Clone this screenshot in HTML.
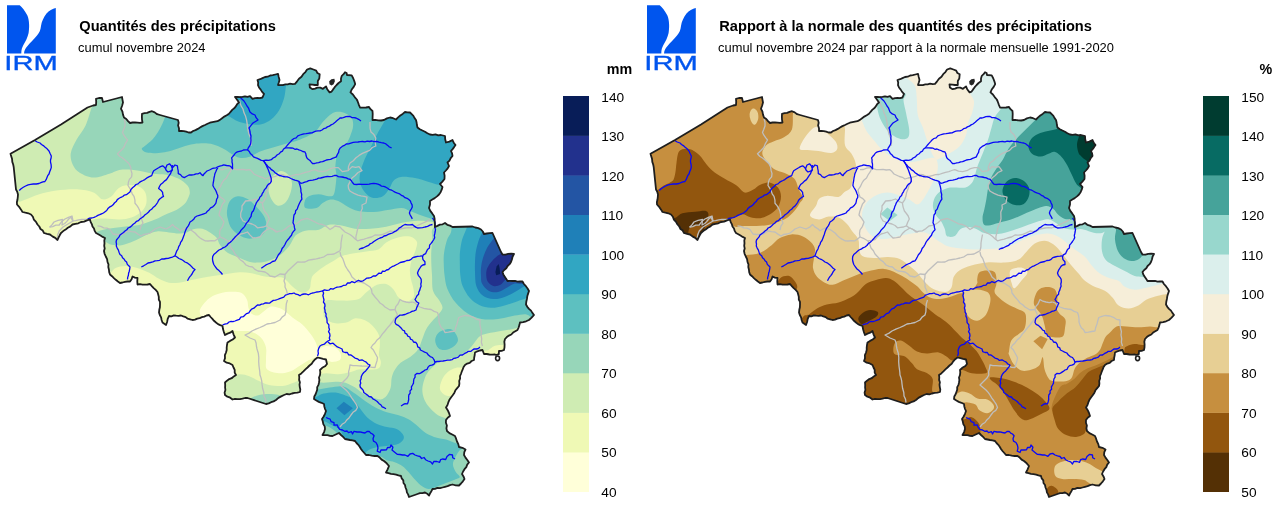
<!DOCTYPE html>
<html><head><meta charset="utf-8"><title>IRM</title>
<style>
html,body{margin:0;padding:0;background:#fff;}
body{width:1280px;height:507px;overflow:hidden;font-family:"Liberation Sans",sans-serif;}
svg{display:block;will-change:transform}
text{font-family:"Liberation Sans",sans-serif}
.lb{font-size:13.7px}
.un{font-size:14.3px;font-weight:bold}
.ti{font-size:14.62px;font-weight:bold}
.st{font-size:12.88px}
</style></head><body>
<svg width="1280" height="507" viewBox="0 0 1280 507">
<defs>
<clipPath id="be"><path d="M10.5,153.8 35,140 61,124.5 87.5,107.5 96,105 96,98.8 102,98 103,102 122,97 123,102.5 121,108.8 124,117.5 130,123 142.5,122.5 142,113.8 152,111.2 160,115 178,120 179,131 191,132.5 200,127.5 207.5,123.8 217.5,121.2 229,113.8 239,102.5 235,97 250,96.2 252.5,98.8 262.5,97.5 264,93.8 259,87.5 257.5,80 265,77 278,73.8 279.5,80 278,85 295,83.8 299,78.8 303.2,74.2 307.1,69.5 310.3,68.3 313.4,69.5 316.2,70.7 317.4,73 319.7,74.2 319.3,78.5 317.8,80.9 317.8,85 309.5,84.3 309.9,87.6 312.6,89.2 317.4,87.6 322.9,88.8 326,86.4 327.2,89.2 329.6,92.4 331.6,91.6 334.7,87.2 341,81.3 341.8,75.8 345,72.2 346.6,73 347,75 351.7,75.4 355.2,84.1 350.5,92.4 356.8,99.5 357.5,101 360,107.5 369,107 372.5,111 372.5,120 384,120 390,117.5 396,119.5 405,112 410,112.5 416,120 417.5,127.5 430,134.5 441,135 445,136 446,142.5 452.5,140 455.5,145 451,151 452.5,156 447.5,162.5 449,166 444,172.5 444.5,179 440,184 442.5,187 439,194.5 430,201 429,208 434,216 435,227 445,223 452.5,227 472.5,226.5 481,229.5 484,234 492.5,233 501,252 502.5,254.5 514,254 511,262 502.5,272 507.5,281 522.5,281.5 529,291 526,304.5 534,315 529,320 520,322.5 517.5,330 505,339 504,350 499,351 498.8,354.2 496,355 495,354.5 484,354 482.5,350 475,352.5 474,360 465,365 460,376 459,386 451,397.5 446,407.5 450,416 446,420 447,431 455,436 459,447 465.5,449.5 464,455 469,462.5 462,474 464.5,479 459,485.5 452.5,484.5 442.5,487.5 432.5,489 429,495.5 425,492.5 417.5,494 409,497 405,485 401,476 386,472.5 389,466 384,461 377.5,456 366,455 362.5,451 355,441 345,439 339,433 332.5,436 322.5,435 325,429 322,419 326,411 324,404 314,399 319,382.5 320,370 327,364 326,359.5 317.5,357.5 307.5,367.5 299,375 300,392 284,395 276,400 266,404 247.5,398 232.5,399.5 225,395 225,382.5 236,375 232.5,365 224,361 226,352.5 227.5,342.5 235,337.5 232.5,331 225,335 222.5,326 216,322.5 209,315 192.5,320 181,315.5 169,316 166,325 162.5,322.5 159,312.5 160,304.5 157.5,292 150,284 137.5,284.5 137.5,278 132.5,276.5 130,281.5 120,283 110,274.5 107.5,262 104,251 105,238 96,233 90,219.5 81,222 72.5,224.5 61,233 57.5,240 50,234.5 44,233 37.5,224.5 31,214.5 22.5,212 17,204.5 18,194.5 16,189.5 14,170Z"/></clipPath>
<g id="ov">
<g fill="none" stroke="#bebebe" stroke-width="1.3" stroke-linejoin="round">
<path d="M124,118.8 125,122.3 125,126 123.8,129.3 122.5,132.5 123.9,135.2 125.6,137.7 127.5,140 125.4,143.6 123.8,147.5 120.7,150.7 117.5,153.8 119.7,156.2 122.5,158 125,160 129,163.8 130.6,166.9 131.1,170.4 132,173.7 131.6,176.9 129.4,179.4 128.4,182.3 128,185.5 129.7,188.1 131.2,190.8 132.2,193.9 134,196.4 134.9,199.8 135,203.3 137,205.6 138.6,208.2 139.9,211 140.6,214 140.9,217 141.8,220.1 143,223 140.9,226.2 140,230"/>
<path d="M50,227 52.1,224.6 54,222 58.1,220.3 62.5,219.5 62,225 64.7,223.5 66.9,221.4 68.7,219 71,217 72.5,220.8 75.6,220.7 78.7,219.8 81.8,219.4 85,219.5 90,219.5"/>
<path d="M97.5,225.8 100.8,226.3 103.7,227.8 107,228.1 110,229.5 113,234 116.2,234.5 119.3,234.5 122.5,234.5 125.2,232.6 128,231 131.5,231.7 135,232 137.9,234.1 141,236 143.8,234.4 147,234 150,233 152.6,231.1 155,229 160,227 163,228 166,229 169.6,227.2 172.5,224.5 174.8,226.9 177.6,228.6 180,230.8 185,228 190,229.5 192.7,231.3 195.3,233.3 197.5,235.8 199.8,237.8 202.4,239.4 205,240.8 208.3,241 211.7,240.7 215,240.8 217.5,238.9 220,237 224.2,238.7 228,241 231.5,240.3 235,239.5 237.7,236.4 241,234 244.3,233.2 247.5,232 250.1,235.1 253,238 256.5,237.7 260,237 262.2,233.8 265,231 270,228 273.3,229.5 276,232 279.2,231.2 282.5,230.8 285.9,228.6 289,226 292,225.3 295,224.5 298.2,222.5 301,220 304.2,219.2 307.5,218.5 311.3,220.1 315,222 318.6,223.8 322.5,224.5 325.3,225.8 327.7,227.5 330,229.5 332.6,227.9 335,226 340,227 342.4,229.6 345,232 350,234.5 352.6,236.5 354.9,238.8 357.5,240.8 360.8,239.8 364.2,239.2 367.5,238 371.5,237 375,235 378.8,235.2 382.5,234.5 386.3,232.9 390,231 395,232 400,229 405,228 408.3,227.6 411.7,228 415,227 419,224.9 423,223 426.6,221.4 430,219.5"/>
<path d="M240.7,213 242,209.6 242,206 243.8,203.5 245.6,201 251,200.5 255.5,199 258.8,201.3 262.4,203 263.1,207.1 264.4,211 266.4,213.5 268.2,216 269.3,219 267.7,222.3 266.4,225.8 263.5,227 260.5,227.3 257.5,227.8 255.1,225.5 252,224 247.6,222.8 243,221 240.7,217 240.7,213"/>
<path d="M239.7,100.5 240.2,103.6 241.4,106.4 243,109 244,112.8 245.6,116.3 246.6,120.1 247.2,124.1 247.6,128 248.3,131.4 249.2,134.8 250.6,138 251.5,142 251,146"/>
<path d="M220,169.6 223.4,169.5 226.6,168.1 229.9,167.6 233.1,168.7 236.3,169.6 239.7,169.6 243,169.3 246.3,170 249.6,169.6 252,171.6 254,174 259.4,176.5 262.4,177.3 265,179 268.1,178 271.3,177.5 275.4,176.3 279.2,174.5 282.6,174.7 285.7,176.1 289,176.5 292.3,175.6 295.5,174.7 298.9,174.5 302.2,173.4 305.5,172.4 308.8,171.6 311.7,170.5 314.7,169.6 318.5,171.1 322.6,171.6 326.8,170.7 330.5,168.6 334.4,167.7 338.3,167.6 342.3,171.6 348.2,170.6 352.1,166.6 355.6,167.3 359,166.6 362,170.6 358,172.5"/>
<path d="M370,122 370,125.4 370.1,128.7 371,132 373.9,134.6 375.8,138 375.2,142 375.8,146 372.3,147.5 369.6,150.4 366,151.8 362.4,153.4 359.1,155.4 356,157.7 353.3,160.7 350,163 348.5,166.6 348.2,170.6"/>
<path d="M358,172.5 355.2,175.5 352,178 350,181.6 348.2,185.4 348.6,188.6 350.2,191.3 354,193.4 358,195.2 361,195.8 364.1,196.3 367,197.2 366,203 362,205 362.3,208.5 360.8,211.9 360.9,215.4 361,218.9 359.8,223 358,226.8 357.4,230.1 356.7,233.4 355.9,236.6 356,240"/>
<path d="M240,259.5 243.3,261.9 246,265 249.1,266.4 252.5,267 254.9,269.4 258,271 261.5,271.3 265,272 267.7,273.8 270,276 275,277 280,274 285,274.5 284.9,277.8 284,281 285.1,283.9 285,287 286.6,290.6 287.5,294.5"/>
<path d="M285,274.5 287.8,271 291,268 294.2,265 297.5,262 301.2,262.1 305,262 308.6,260.2 312.5,259.5 316.3,258.8 320,258 324,256.8 327.5,254.5 330.8,254.3 334,254 337,252.4 340,250.8 340.9,247 341,243 341.7,238.7 342.5,234.5"/>
<path d="M340,252 340.8,255.6 342.8,258.6 344,262 345.3,265.9 347.5,269.5 350.1,273.1 352,277 354.8,279.5 357.5,282 360.8,282.2 364,283 367,285 370,287 371.6,289.8 372,293 375,297 377.6,299.9 380,303 382.7,304.8 385,307 390,310 395,309.5 395.9,306.4 398,304 400,299.5 402.8,301.2 406,302 409.2,302.6 412.5,302"/>
<path d="M287.5,300 286.3,303.9 286,308 285.9,311.6 285,315 282.1,317.1 280,320 275,322.5 271,323.3 267,324 263.6,325.9 260,327.5 255.9,329.1 252,331 248.7,333.4 245,335 250,338 255,340 256.1,342.9 256.4,346 257,349 258.3,353.2 258.8,357.5 258.7,361.8 259,366 259.4,369 259.8,372 260,375 261,377.9 261.7,380.9 262,384 262.6,388.3 263.8,392.5 264,396 265.5,399.1 266,402.5"/>
<path d="M395,309.5 396.3,312.2 397.5,315 395.1,317.9 393,321 390,325 387.4,327.9 385,331 382.3,334.1 380,337.5 377.1,339.9 375,343 372.7,345 371,347.5 373.4,350 375,353 377.5,357.5 377,360.9 375.9,364.2 375,367.5 371.7,367.3 368.6,366.1 365.3,366.1 362,366 359,365.8 356,365.7 353,365.6 350,365 349.5,368.3 348.6,371.6 348.8,375 346.8,378.3 344,381 340,385 343,387.4 346,390 348.2,392.4 350,395 351.9,398.1 354,401 356.1,404.1 357.5,407.5 355.8,410.4 353,412.3 351,415 349.2,417.7 346.8,419.9 345,422.5 342.1,424.3 340,427"/>
<path d="M412.5,302 415.4,303.1 417.2,305.8 420,307 423.7,308.3 427.5,309 431.1,309.5 434.1,311.4 437.5,312.5 438.6,315.7 439,319 439,322.1 440,325 441.3,327.8 443.6,329.8 445,332.5 448.4,332.1 451.7,331.5 455,331 455.7,327.4 457,324 457.8,320.7 458.8,317.5 461.9,316.4 465,315.5 470,316 473.4,317.3 476.4,319.3 480,320 479.9,324 480.5,328 481.4,331.5 481,335 481.7,338.6 481.4,342.4 482.5,346"/>
<path d="M232,168 230.3,171.7 228,175 226.5,178 223.8,180.2 222,183 220.3,186.7 218,190 218.8,193.5 220,197 222.8,198.6 225,201 222.4,204.2 221,208 219.8,211.4 219,215 221.7,218.3 224,222 222.5,226.3 220,230 219.5,233.5 220,237"/>
<path d="M262.4,203 264.7,199.8 266,196 266.6,192.4 268,189 269,185.3 271,182 271.3,177.5"/>
<path d="M266.4,225.8 269,227.8 272,229 274.9,230.6 278,232"/>
<path d="M228,241 229.8,244.4 231,248 233.4,250.7 235,254 237.6,256.7 240,259.5"/>
<path d="M49.3,227 52.7,226.6 55.8,225.2 59.2,225 61.7,221.6 65,219 68.4,217.3 72,216 73,221 68,224 63,227 59.2,231 57.8,234.4 57.2,238"/>
</g>
<g fill="none" stroke="#0808f8" stroke-width="1.3" stroke-linejoin="round">
<path d="M34.6,140.5 37.2,142 40,143 41.5,144.5 43.3,145.6 44.9,147 47.1,148.8 49,151 50.1,153.5 51.3,156 51.1,158 50.5,160 50.5,162 51.1,164.7 51.3,167.4 50.6,169.6 49.7,171.8 49,174 47.7,175.7 46.9,177.7 46.1,179.7 44.9,181.5 42.9,181.9 40.9,182.7 39,183.5 36.2,184 33.3,184 30.6,184.3 28.1,184.9 25.6,186 23.3,187.3 21.1,188.7 19.2,190.5"/>
<path d="M87.6,219 89.6,218.1 91.9,218 94,217.4 96,216.5 97.8,215.4 99.7,214.7 101.5,213.8 103.4,213 105.1,211.7 106.7,210.5 107.9,208.6 109.4,207.2 111.3,206.2 113.1,204.8 114.4,203 116.2,201.6 117.3,199.6 119.2,198.3 120.9,197.3 122.8,196.5 124.4,195.1 126.4,194.7 128,193.4 129.9,191.9 130.9,189.6 132.5,187.8 134.4,186.3 136,184.5 138,183.9 139.5,182.4 141.2,181.3 143,180.5 144.8,179.6 146.9,177.9 149.3,176.7 151.7,175.6 152.6,173.1 153.7,170.7 156.1,169.2 158.6,167.8 160.5,166.6 162.6,165.8 164.2,167.1 165.5,168.7 167,165 169.5,163.8 171.2,165.7 172.4,167.8 175,165 177.4,165.8 177.7,168.4 178.2,171 178.3,173.7 180.5,174.6 182.1,176.6 184.3,177.6 186.7,176.3 189,175 191.6,175 194.1,174.7 196,173.8 198.2,173.8 200,172.7 201.3,174.4 203,175.6 204.1,173.8 205.6,172.4 207,171 209.5,170 211.9,168.7 213.9,168.2 216,167.8 217.8,166.8 219.7,166.1 221.8,165.7 223.7,164.8 226.6,165.5 229.6,165.8 231.2,167.1 232.6,168.7 232.5,166.5 232.5,164.2 232,162 232.1,159.9 231.6,157.9 232.9,156.3 234.3,154.7 235.5,153 237.3,151.9 239.4,151.3 241.5,151 243.4,150 245.5,149.9 247.6,149.9 248.3,147.8 249.6,146 250.6,144 250.9,142 251,140 250.8,138 251,136 250.4,134 250,132 249.7,129.9 249,128 250.3,126.3 251.6,124.6 253,123 255.5,121.5 258,120 256.1,117.7 255,115 252.3,113.9 250,112 249.2,109.9 248.4,107.8 247,106 245.6,103.5 244,101 241.9,99.1 240,97"/>
<path d="M165.5,168.7 166.4,170.6 168,172 170.4,171.2 172.4,169.7 172,167.3 172.4,165"/>
<path d="M127.5,279.5 127.7,277.4 128.4,275.3 128.6,273.2 129.3,271.2 129.7,269.1 130,267 128.5,265.6 127.2,264.1 126.6,262 125,260.7 124,259 122.5,257.7 121.7,255.7 120,254.5 119.1,252.4 118.4,250.1 117.2,248.1 116.3,246 116.5,244 116.1,242 116.5,240 117.8,238.4 119.1,236.9 120,235 121.7,233.7 123.5,232.5 125,231 126.8,229.8 128.1,228 130.1,227.2 131.7,225.7 133.2,224.2 135,223 136.4,221.3 138.5,220.6 139.9,219 141.7,217.8 143.4,216.6 144.8,215 146.6,213.7 148.4,212.3 149.7,210.5 151.6,209.3 153,207.6 154.7,206.2 156.3,204.4 157.6,202.5 158.6,200.3 160,198.7 161.7,197.4 163.5,196.4 162.8,194.5 162.6,192.4 160.9,190.2 158.6,188.5 159.5,186.5 160.6,184.5 162.6,183 164.4,181.1 166.5,179.6 167.8,177.6 169.1,175.6 170.5,173.7 171.3,171.6 172.4,169.7"/>
<path d="M187.5,280.8 188.4,279 189.5,277.2 190.8,275.6 192,274 193.2,271.6 195,269.5 193.1,268.3 191.6,266.6 190,265 187.7,263.2 185,262 183.1,260.5 181.1,259.3 178.9,258.5 177,257 175,255.8 175.8,253.5 176.7,251.1 178,249 178.7,246.6 180,244.5 180.6,242.3 182,240.5 182.8,238.4 183.6,236.3 184.4,234.2 185,232 185.8,229.9 186.8,227.9 188.1,226.1 189.2,224.1 190,222 192,220.7 193.7,219.3 195,217.2 197,216 199.3,215.3 201.5,214.6 203.8,213.8 206,213 207.4,211.2 209.2,209.7 210.6,207.9 212.8,206.8 214.4,205.2 215.8,203.3 216.3,201.3 216.6,199.3 217.7,197.5 217.8,195.4 216.9,193.4 216.1,191.3 215.1,189.3 213.9,187.5 212.9,185.5 213.2,183 213.7,180.5 214,178 214.5,175.9 214.9,173.7 215.8,171.7 216.6,169.7 217.8,167.8"/>
<path d="M141.3,267 143.6,265.8 145.9,264.5 148,263 150.4,262.5 152.8,261.9 155,260.8 157.3,260.6 159.6,260.3 161.7,259 164,259 166.1,258.5 168.3,258.4 170.4,257.6 172.5,257 175,255.8"/>
<path d="M222.5,274.5 220.9,272.5 219,270.6 217,269 215.4,266.8 213.8,264.5 212.9,261.8 212.5,259 212.7,256.6 213.8,254.5 215.6,253.1 217.2,251.5 219,250 221.1,249.2 222.9,247.9 225,247 226.9,245.5 228.3,243.6 230.3,242.3 232,240.6 233.6,238.8 235.1,237 236.8,235.4 238.5,233.8 240,232 241.1,230.1 242.7,228.5 244.3,226.9 245.4,225 246.4,223.1 247.9,221.6 249,219.8 250,218 251.1,216.3 251.4,214.2 252,212.3 253.4,210.7 254.2,208.8 254.7,206.8 255.5,205 256.3,202.9 257.6,201 259.1,199.2 259.9,197.1 261.6,195.5 262.4,193.3 263.6,191.6 264.5,189.6 266.1,188 267,186.1 268.3,184.4 270.1,183.2 271.3,181.4 271.2,178.4 270.3,175.5 269.6,173.5 268.9,171.5 268.2,169.5 267.3,167.6 266.2,165.2 265.1,162.8 263.4,160.7 261.3,160.3 259.4,159.3 257.5,158.3 255.4,157.7 253.5,156.8 252.1,155 250.3,153.6 249.3,151.4 247.6,149.9"/>
<path d="M261.3,268.3 263.4,266.7 265.6,265.2 268,264 270.4,263.1 272.5,261.5 275,260.8 276.3,258.9 277.4,256.8 278.4,254.7 280,253 281.3,250.9 282.1,248.5 283.7,246.6 285,244.5 285.9,242.4 287.2,240.5 288.7,238.8 290,237 291.5,235.3 292.2,233.2 293.5,231.4 295,229.7 294.4,227.4 294.1,225 293,222.8 293.4,220.2 293.6,217.6 294,215 295.4,213.2 295.6,210.8 297.2,209.1 297.9,207 298.7,205 299.6,203 300.6,201 301.9,199.2 301.5,196.7 301.7,194.2 300.9,191.8 300.9,189.3 300.5,187.3 300,185.3 299.3,183.4 298.9,181.4 296.9,180.6 294.8,180.2 292.8,179.4 290.9,178.5 289,177.5 287.1,176.9 285.1,176.8 283.1,176.5 281.2,175.8 279.2,175.5 277.2,174.1 275.1,172.7 273.4,170.9 271.3,169.6 270,168 268.2,166.8 266.9,165.1 265.4,163.7 263.4,160.7"/>
<path d="M263.4,160.7 266,160.1 268.7,160.4 271.3,159.7 273.1,158 275.4,156.9 277,155 279.2,153.8 280.5,152.2 282.4,151.2 283.4,149.2 285,147.9 286.5,146.4 287.8,144.7 289.2,143.1 290.6,141.6 292,140 293.9,138.5 296.2,137.8 297.8,135.9 300,135 302,134.4 303.9,133.8 306,133.6 308,133.3 310,133 312.1,132.9 314,131.9 315.9,131.2 317.9,130.8 320.1,130.9 322,130 323.6,128.7 325.7,128.1 327.4,126.9 329.4,126.1 331.1,124.9 333,124 334.9,122.6 336.5,121 338.3,119.6 340,118 342.1,118 344,117.3 345.9,116.6 348,116.5 350.1,116.5 351.9,117.6 354,117.6 356,118 358.6,119.3 361,121"/>
<path d="M285,147.9 287,147.9 289,147.9 291,148 293.1,148.2 294.9,149.3 297,149 298.9,149.9 300.9,150.5 302.7,151.5 304.8,151.8 305.8,153.7 306.1,155.8 306.8,157.8 308.2,159.3 310,160.5 311.3,162.1 312.7,163.7 314.7,163.5 316.7,162.9 318.7,162.7 320.6,161.8 322.6,161.7 324.5,160.8 326.4,160 328.5,159.6 330.6,159.3 332.5,158.3 334.5,157.7 336.4,156.8 337.3,154.5 338.6,152.4 339,150 340.3,147.9 342.2,146.4 344.3,145.4 346.2,144 348.6,143.8 350.9,143.1 353.2,142.4 355.6,142.2 358,142 360.3,141.6 362.6,141.5 365,141.8 367.2,141.1 369.6,141.5 371.9,141 374.2,141.7 376.7,141.4 379,142.1 381.3,142.6 383.7,143 385.9,143.9 387.7,145.4 389.4,147 391.6,147.9"/>
<path d="M298.9,181.4 300.9,183.4 302.9,182.9 304.8,182.1 306.8,181.7 308.7,180.7 310.7,180.4 312.8,180.2 314.7,179.7 316.7,179.1 318.6,178.2 320.6,178 322.6,177.5 324.9,176.9 327.3,176.5 329.7,176.7 332.1,176.3 334.4,175.5 336.5,175.5 338.3,176.6 340.3,176.8 342.3,177 344.3,177.5 346.3,177.9 348.2,178.9 350.2,179.4 351.5,181 352.7,182.8 354.1,184.4 356.7,184.5 359.4,184.1 362,184.4 364.4,184.4 366.8,184.4 369.1,184.2 371.4,183.7 373.8,183.4 375.9,183.6 377.9,184.2 379.8,184.9 381.6,186.2 383.7,186.4 385.8,187.2 387.7,188.3 389.5,189.7 391.7,190.2 393.6,191.3 395.5,192.3 397.5,193.2 399.7,193.9 401.4,195.3 403.4,196.2 405,197.7 407.1,198.3 408.8,199.6 410.4,201 411.1,203 412.1,204.9 412.3,207 411.3,209 410.1,210.9 409.4,213 410.2,215 411.3,216.9 412.3,218.9"/>
<path d="M432.5,218 433.8,220 435,222 435.1,224.5 434.6,227.1 435.5,229.5 435.2,231.5 434.8,233.5 434.3,235.5 434.7,237.6 433.8,239.5 432.5,241.5 431.1,243.4 429.6,245.2 429.4,247.9 427.5,249.5 426.5,251.6 425.6,253.7 423.3,254.8 422.5,257 423,259.6 424.9,261.7 425,264.5 422.8,265 421.2,266.1 420,268 418.5,270.4 417.5,273 418.3,275.3 420,277.3 421.2,279.4 421.3,282 420.8,284 421.1,286.2 420.3,288.1 419.8,290.1 418.8,292 418.6,294.3 417,295.8 416,297.7 415,299.5 416.5,301.7 418.8,303 417.8,305.3 416.7,307.6 416,310 414,310.8 411.9,311.4 410,312.5 407.5,313.4 405.1,314.5 402.5,315 399.7,315.2 397.5,317 395.9,318.5 395.3,320.4 395,322.5 396.2,324.3 398.2,325.3 399.8,326.7 401.3,328.2 402.5,330 404.5,330.9 405,333.2 406.9,334.2 407.8,336.2 409.8,337 410.5,339.2 412.5,340 413.5,342 416,342.5 417.2,344.4 417.7,346.8 419.7,347.8 420.4,350 422.5,351 424.6,352.1 426.9,353 428.4,355.1 430.2,356.6 432.5,357.5 434.1,359.8 435,362.5 433.8,364.3 431.8,365.2 429.5,365.6 428.1,367.1 427.1,369.3 425,370 423.2,371.4 421.3,372.6 419.4,373.7 416.8,373.5 415,375 415.1,377.1 413.9,379 413.6,381 413.5,383.1 412.5,385 411.4,386.9 411.6,389.2 410,390.9 410.2,393.2 408.8,395 408.6,397.2 408.7,399.5 408.2,401.7 407.5,403.8 405.1,403.7 403,404.7 401,406"/>
<path d="M422.5,255.8 420,256.2 417.5,256.3 415,257 412.8,257.6 411.1,259.3 409.1,260.3 406.8,260.5 404.7,261.5 402.5,262 400.2,262.5 398.2,263.7 396.2,264.8 394.1,265.9 392,266.7 390,268 388.5,269.5 386.5,270 384.9,271.3 382.5,271.1 381.4,273.3 379,273.1 377.5,274.5 375.7,276 373.2,275.9 371.4,277.3 369.2,278 366.9,278.1 365,279.5 363.1,280.8 360.9,281.3 358.4,280.3 356.4,281.5 354.5,282.7 351.9,281.6 350,283 347.6,283 345.9,285.1 343.6,285.3 341.6,286.5 339.4,286.9 337.1,287.1 335,288 333,289.1 330.8,288.6 328.9,290.2 326.8,290.4 324.5,289.8 322.5,290.8 320.5,291.4 318.5,291.8 316.5,292 314.5,292.6 312.5,293 310.5,293.7 308.5,294.8 306.2,294 304,294 301.9,294.5 300,295.8 298.1,294.6 295.9,294.2 294,293 291.9,293.7 289.6,293.7 287.5,294.5 285.4,295.2 283.8,297.1 281.7,297.9 279.6,298.7 277.5,299.5 275.5,300.2 273.3,300.4 271.5,301.6 269.8,303.1 267.5,303 265.4,302.8 263.5,303.9 261.5,304.2 259.6,305.1 257.5,305 255.7,306.6 253.9,308.2 251.6,309.1 250,311 248.8,312.9 246.6,313.6 245,315 243.3,316.7 240.8,317.1 239.4,319.3 237.2,320.1 235,321 233,321.6 231,321.4 229,322 227.2,323.7 224.7,324.1 222.5,325"/>
<path d="M358.8,249.5 360.8,248.5 363,248 365,247 366.8,246.1 368.7,245.3 370.1,243.8 372,243 373.9,241.5 375.8,240.2 377.9,239 380,238 382.2,237.4 384,236 386.3,235.5 388.2,234.4 390.3,233.7 392.5,233 394.3,231.7 396.2,230.8 397.9,229.4 399.4,227.8 401.3,226.8 403,225.5 405,224.5 407.5,224.8 410,224.8 412.5,224.5 414,225.9 415.7,227.1 417.5,228 420,227.9 422.6,227.7 425,227 427.6,226.4 429.9,225.1 432.5,224.5"/>
<path d="M322.5,290.8 323.6,293 322.9,295.5 323.4,297.7 324,300 323.4,302.1 324.8,304 325,306 324.4,308 325,310 325.1,312.1 326.1,313.9 325.9,316.1 326.8,318 327,320 327.1,322.6 328.9,324.8 328.8,327.5 329.5,329.5 328.5,331.7 329.7,333.7 330,335.8 329.3,338 330,340 327.9,341 326,342.5 324.3,344.2 322,344.8 320,346 318.7,348.4 318,351 318.4,353.6 317.5,356"/>
<path d="M328,342 330,343.8 333,343.2 335,345 337.3,346.9 340,348 342.1,349 342.7,351.7 345,352.5 347.3,352.5 348.7,354.8 351,355 353,356.5 355,358.1 357.5,358.8 359.4,360.4 362,359.8 364,361 366.2,362.1 367.8,364 370,365 368.8,367.1 367.2,369 365.7,370.9 363.8,372.5 362.3,374.4 361.3,376.6 361,379 360.1,380.9 360.8,383.1 360,385 360.3,387.2 361.9,388.8 363.3,390.4 363.8,392.5 365.6,393.8 367.4,395.1 369,396.5 371.4,397 372.9,398.9 375,400 377.2,401.5 378.9,403.4 381,405 382.2,406.9 384.2,407.7 386,408.8"/>
<path d="M435,362 437,361.5 439,361.5 441,361.1 443,361 445.3,360.6 447.6,360.2 450,360 452.1,359.6 453.9,358.3 456,358 458.3,357.2 460,355.2 462.5,355 464.3,353.7 466.4,352.7 468.2,351.4 470.7,351.4 472.5,350 474.2,348.9 476.4,349 478.4,348.5 480,347"/>
<path d="M326,417.5 328,418.3 330,419 331.2,421.7 334,422.5 334,425.2 337.3,424.9 338,427 339.7,429.4 342.5,430 344.6,431.3 347,431 348.5,432.6 351.4,431.6 352.5,434 354,431.3 357,432 359.8,431.8 362.5,432.5 365,433 367,431.5 369.2,431.4 370.7,433.2 372.5,434 374.1,435.8 373,438.8 373.5,441.1 376,442.5 377.4,445.1 378,448 377.2,451.1 380,452.5 381.1,449.8 384,450 386.5,449.8 387.5,447.5 390.1,447.5 391,445 392.9,447.2 392,450 395,452.5 397.2,454.3 400,454.5 402.5,455 405,455 407.9,456.3 410,454 412.7,453.4 415,455 417.5,455.9 420,456.5 421.6,458.5 424,457.5 425.6,459.7 428,461 430.7,461.9 432.5,464 433.9,461.3 437,461.5 439.6,462.3 440.6,459.7 442.5,459 445.7,459.5 447,456.5 449.4,454.4 452.5,455 452.7,457.7 455,459"/>
</g>
<path d="M10.5,153.8 35,140 61,124.5 87.5,107.5 90.3,106.5 93.1,105.5 96,105 96.2,101.9 96,98.8 98.9,98 102,98 103,102 122,97 122.5,99.8 123,102.5 122.1,105.7 121,108.8 122.4,111.5 123,114.6 124,117.5 126.3,119 128,121.1 130,123 132.5,122.5 135,122.4 137.5,122.6 140,122.9 142.5,122.5 142,119.6 141.9,116.7 142,113.8 144.5,113.2 147.1,112.9 149.5,111.9 152,111.2 154.7,112.4 157.1,114.2 160,115 178,120 178.7,122.7 178.1,125.5 179,128.2 179,131 181.4,130.9 183.8,131.2 186.2,131.7 188.6,132.5 191,132.5 193.1,131 195.5,130.1 197.8,128.9 200,127.5 202.4,126.1 205,125 207.5,123.8 209.9,122.7 212.4,122.1 214.9,121.6 217.5,121.2 219.9,119.9 222.1,118.2 224.3,116.6 226.7,115.3 229,113.8 230.6,111.8 232.2,109.9 234.2,108.3 235.8,106.4 237.1,104.2 239,102.5 237.1,99.7 235,97 237.5,96.9 240,97.1 242.5,96.9 245,96.3 247.5,96.9 250,96.2 252.5,98.8 255,98.1 257.5,98 260,98.1 262.5,97.5 264,93.8 262.1,91.9 260.7,89.6 259,87.5 258,85.1 258.2,82.5 257.5,80 260.1,79.2 262.5,78.1 265,77 267.7,76.7 270.2,75.5 272.8,75.2 275.4,74.5 278,73.8 278.7,76.9 279.5,80 278.8,82.5 278,85 280.5,85.2 282.9,85.1 285.3,84.4 287.7,84.4 290.1,83.7 292.6,84.1 295,83.8 297.1,81.3 299,78.8 301.5,76.8 303.2,74.2 305.4,72.1 307.1,69.5 310.3,68.3 313.4,69.5 316.2,70.7 317.4,73 319.7,74.2 319.3,78.5 317.8,80.9 317.8,85 315,85 312.3,84.6 309.5,84.3 309.9,87.6 312.6,89.2 315.1,88.6 317.4,87.6 320.3,87.7 322.9,88.8 326,86.4 327.2,89.2 329.6,92.4 331.6,91.6 333.1,89.4 334.7,87.2 336.6,85 338.6,83 341,81.3 341,78.5 341.8,75.8 343.6,74.2 345,72.2 346.6,73 347,75 351.7,75.4 353.2,78.2 354.3,81.1 355.2,84.1 353.7,86.9 351.7,89.5 350.5,92.4 352.9,94.5 354.7,97.1 356.8,99.5 357.5,101 358.7,104.3 360,107.5 363,107.7 366,107.5 369,107 370.5,109.2 372.5,111 372.7,114 372.6,117 372.5,120 375.4,119.9 378.2,120.4 381.1,120.5 384,120 386.9,118.4 390,117.5 393.1,118.2 396,119.5 398.1,117.4 400.3,115.5 402.7,113.9 405,112 407.5,112.3 410,112.5 411.7,114.2 413.4,115.9 414.6,118.1 416,120 416.6,122.5 416.9,125 417.5,127.5 419.8,129.3 422.4,130.5 425,131.7 427.4,133.2 430,134.5 432.7,134.8 435.5,134.3 438.2,135.3 441,135 445,136 445.2,139.3 446,142.5 449.4,141.6 452.5,140 453.7,142.7 455.5,145 454.1,147.1 452.6,149.1 451,151 452.1,153.4 452.5,156 450.7,158.1 449.5,160.6 447.5,162.5 449,166 447.7,168.4 445.9,170.5 444,172.5 444.6,175.7 444.5,179 442.4,181.6 440,184 442.5,187 441.7,189.7 440.6,192.2 439,194.5 437,196.4 434.7,198.1 432.3,199.5 430,201 430,204.6 429,208 430.3,210.9 432.2,213.4 434,216 434.6,218.7 434.7,221.5 434.9,224.2 435,227 437.4,225.9 439.9,224.6 442.6,224.3 445,223 447.3,224.8 450,225.6 452.5,227 472.5,226.5 475.3,227.5 478.3,228.1 481,229.5 482.8,231.5 484,234 486.8,233.5 489.6,233.1 492.5,233 501,252 502.5,254.5 505.4,254.7 508.2,253.9 511.1,253.6 514,254 512.6,256.5 512,259.3 511,262 509.6,264.2 507.6,266 506.3,268.3 504.2,270 502.5,272 503.3,274.5 504.7,276.7 506.1,278.8 507.5,281 510,280.8 512.5,281 515,280.9 517.5,281.6 520,281.4 522.5,281.5 523.9,284 525.9,286.2 527.6,288.5 529,291 528.1,293.6 527.3,296.3 526.9,299 526.3,301.7 526,304.5 527.3,306.8 529,308.8 531,310.6 532.4,312.9 534,315 531.6,317.6 529,320 526.1,321.3 523.1,322.1 520,322.5 519.4,325.1 518.6,327.6 517.5,330 515.3,331.3 513.1,332.6 511.3,334.5 508.9,335.6 506.8,337.1 505,339 504.3,341.7 504.6,344.5 504.5,347.3 504,350 501.6,350.8 499,351 498.8,354.2 496,355 495,354.5 492.2,354.7 489.5,354.5 486.8,354 484,354 482.5,350 479.9,350.5 477.4,351.3 475,352.5 474.7,355 474.2,357.5 474,360 471.6,361 469.7,362.9 467.2,363.6 465,365 463.6,367 462.7,369.3 461.8,371.5 461,373.8 460,376 460.1,378.5 459.2,381 459.4,383.5 459,386 457.2,388.1 455.4,390.3 454.3,393 452.7,395.3 451,397.5 449.4,399.8 448.3,402.4 447.5,405.1 446,407.5 447.7,410.2 449,413 450,416 447.7,417.7 446,420 445.9,422.8 446.9,425.5 446.4,428.3 447,431 449.4,433.1 452.2,434.5 455,436 456.1,438.7 457,441.5 458.3,444.1 459,447 462.4,447.8 465.5,449.5 464.3,452.1 464,455 465.5,457.6 467.3,460 469,462.5 467.2,464.6 466.3,467.1 464.5,469.2 463.1,471.5 462,474 463.5,476.4 464.5,479 462.9,481.3 461,483.5 459,485.5 455.7,485.3 452.5,484.5 450,485.2 447.6,486.2 445,486.8 442.5,487.5 440.1,488.2 437.4,487.8 435,488.8 432.5,489 431.4,491.2 430.1,493.3 429,495.5 427.2,493.7 425,492.5 422.5,493.1 419.9,493.1 417.5,494 414.7,495 411.8,496 409,497 408.2,494.6 406.9,492.4 406.5,489.8 405.5,487.5 405,485 403.5,483 403.3,480.4 401.7,478.4 401,476 398.5,475.4 396.1,474.6 393.5,474.2 391,473.8 388.5,473.1 386,472.5 387.6,469.3 389,466 386.7,463.3 384,461 381.6,459.6 379.7,457.6 377.5,456 374.6,456 371.7,455.7 368.9,455 366,455 364.3,453 362.5,451 361,449 359.7,446.8 358.3,444.8 356.5,443 355,441 352.5,440.4 350,440 347.5,439.5 345,439 343.1,436.9 341,435 339,433 335.7,434.5 332.5,436 330,435.8 327.5,435.1 325,435.1 322.5,435 324.1,432.1 325,429 324.7,426.4 323.3,424.1 322.8,421.5 322,419 323.7,416.5 325,413.8 326,411 325,408.8 324.3,406.4 324,404 321.5,402.8 318.8,401.9 316.4,400.5 314,399 314.3,396.5 315.6,394.3 316.4,392 317.2,389.7 317.2,387.1 318.5,384.9 319,382.5 319.4,380 319,377.5 320,375 320.3,372.5 320,370 322.2,367.8 325,366.3 327,364 326,359.5 323.1,358.9 320.3,358.2 317.5,357.5 315.2,359.2 313.3,361.3 311.7,363.7 309.5,365.5 307.5,367.5 305.4,369.4 303.4,371.4 301.3,373.4 299,375 299.3,377.4 299.1,379.9 299.9,382.3 299.5,384.7 299.8,387.1 300.3,389.5 300,392 297.4,392.7 294.6,392.9 292,393.5 289.4,394.4 286.6,394 284,395 281.2,396.4 278.4,397.9 276,400 273.6,401.4 271.1,402.2 268.7,403.4 266,404 247.5,398 245,398 242.5,398.7 240,399.1 237.5,399.1 235,398.8 232.5,399.5 230.2,397.7 227.4,396.7 225,395 224.6,392.5 225.4,390 225.1,387.5 225.2,385 225,382.5 227,380.7 229.2,379.1 231.7,378.2 233.8,376.4 236,375 234.7,372.6 234.7,369.9 233.5,367.5 232.5,365 229.8,363.4 226.7,362.7 224,361 225,358.2 224.9,355.2 226,352.5 226.7,350.1 226.7,347.5 227,345 227.5,342.5 230,340.9 232.7,339.5 235,337.5 233.5,334.3 232.5,331 230.2,332.7 227.5,333.6 225,335 223.9,332.1 223,329.1 222.5,326 220.2,325.1 218,324.1 216,322.5 214,320.8 212.4,318.9 210.6,317 209,315 206.6,315.5 204.3,316.6 201.9,317.1 199.7,318.2 197.3,318.7 195,319.7 192.5,320 190.1,319.3 187.7,318.7 185.7,317.1 183.3,316.4 181,315.5 178.6,315.9 176.2,315.7 173.8,315.4 171.4,316.3 169,316 167.7,318.9 167.1,322 166,325 162.5,322.5 161.6,320 161.1,317.4 159.8,315 159,312.5 159.3,309.8 159.9,307.2 160,304.5 160,301.9 158.8,299.5 158.8,296.9 158.2,294.5 157.5,292 155.7,289.9 153.7,288.1 151.8,286.1 150,284 147.5,284.5 145,284.6 142.5,284.7 140,284.2 137.5,284.5 137.3,281.2 137.5,278 134.9,277.6 132.5,276.5 131.6,279.2 130,281.5 127.4,281.5 124.9,281.9 122.5,282.5 120,283 117.9,281.5 115.8,279.8 113.9,278.1 112,276.2 110,274.5 109.2,272.1 108.9,269.5 108.3,267 108.5,264.4 107.5,262 107.1,259.1 105.8,256.5 104.6,253.8 104,251 104.7,248.4 104.2,245.8 104.5,243.2 104.3,240.6 105,238 102.7,236.9 100.5,235.5 98.3,234.2 96,233 94.7,230.9 94,228.5 92.5,226.5 91.8,224.1 90.6,221.9 90,219.5 87,220.4 84.1,221.6 81,222 78.3,223.3 75.4,223.9 72.5,224.5 70.4,226.4 67.8,227.8 65.6,229.6 63.2,231.1 61,233 59.7,235.3 58.5,237.6 57.5,240 55.2,237.9 52.4,236.4 50,234.5 47,233.9 44,233 42.8,230.6 40.5,229 39.3,226.5 37.5,224.5 36,221.9 33.9,219.7 32.9,216.8 31,214.5 28.3,213.3 25.4,212.7 22.5,212 20.9,209.4 19.1,206.8 17,204.5 16.9,202 17.5,199.5 17.8,197 18,194.5 17.3,191.9 16,189.5 14,170 13.7,167.2 13.2,164.5 12.3,161.9 12.1,159.1 11.3,156.4Z" fill="none" stroke="#1e1e1e" stroke-width="1.8" stroke-linejoin="round"/>
<ellipse cx="497.6" cy="358.3" rx="2" ry="2.3" fill="none" stroke="#1e1e1e" stroke-width="1.6"/>
<path d="M329.2,81.2L331.4,79.3L334.4,78.7L334.9,81.2L333.6,84.2L331.6,85.5L329.5,84.2Z" fill="#262626"/>
</g>
<g id="logo">
<path d="M7,5.2H19.7C22,6.8 25,11 27.4,15.5C29.3,20 29.6,27 28.6,33C27.6,37.5 25.5,41.5 23.4,45C22,47.5 21.3,50 21.3,53.4H7Z" fill="#0055ee"/>
<path d="M55.8,7.9V53.4H24C24.3,50.5 25.3,48.5 27.5,46C30,43 34,39 37,35.5C39.5,32.5 40.5,30 41,26C41.6,21.5 43.5,17.5 46.5,13.4C49,10.5 52.5,8.6 55.8,7.9Z" fill="#0055ee"/>
<text x="0" y="0" transform="translate(4.3,70.3) scale(1.47,1)" font-size="19.8" fill="#0055ee" stroke="#0055ee" stroke-width="0.35" font-family="'Liberation Sans',sans-serif">IRM</text>
</g>
</defs>
<rect width="1280" height="507" fill="#fff"/>
<g id="mapL">
<g clip-path="url(#be)">
<rect x="0" y="60" width="560" height="447" fill="#cfecb3"/>
<path d="M95,238C102,244.6 99.3,238.3 101.8,239.3C104.2,240.3 106.4,243.2 109.7,244.2C113,245.2 117.6,245.7 121.6,245.2C125.5,244.7 129.5,242.9 133.4,241.3C137.3,239.7 141.3,237.1 145.2,235.4C149.1,233.8 153.1,231.9 157,231.4C160.9,230.9 165.3,232.1 168.9,232.4C172.5,232.7 175.9,233.4 178.8,233.4C181.8,233.4 184.3,233.1 186.6,232.4C188.9,231.7 190.3,230.1 192.6,229.4C194.9,228.8 197.9,228.2 200.5,228.5C203.1,228.8 205.7,229.9 208.3,231.4C210.9,232.9 214.2,235 216.2,237.3C218.2,239.6 218.2,242.6 220.2,245.2C222.2,247.8 224.7,250.9 228,253C231.3,255.1 236.2,256.5 239.9,258C243.6,259.5 247,261.2 250,262C253,262.8 255,262.8 258,262.6C261,262.4 264.4,262.2 268,261C271.6,259.8 276.1,258 279.7,255.4C283.3,252.8 287,248.8 289.6,245.5C292.2,242.2 292.9,238.1 295.5,235.6C298.1,233.1 301.5,231.7 305.4,230.7C309.3,229.7 315.1,230.7 319,229.7C322.9,228.7 325,225.5 329,224.8C333,224.2 338.5,225.2 342.8,225.8C347.1,226.5 350.1,228.2 354.7,228.7C359.3,229.2 365.2,229 370.5,228.7C375.8,228.4 380.9,227.8 386.2,226.8C391.4,225.8 396.7,223.8 402,222.8C407.3,221.8 412.9,221 417.8,220.8C422.7,220.6 427.9,221.3 431.6,221.8C435.3,222.3 433.6,225.1 440,224C446.4,222.9 463.3,232.3 470,215C476.7,197.7 503.3,149.2 480,120C456.7,90.8 383.3,46.7 330,40C276.7,33.3 205,71.7 160,80C115,88.3 76.7,70 60,90C43.3,110 54.2,175.3 60,200C65.8,224.7 88,231.4 95,238Z" fill="#97d6b9"/>
<path d="M440,224C435.4,227.3 433.6,227 432.3,229.6C431,232.2 432.5,235.8 432.3,239.4C432.1,243 431.5,247.4 431.3,251.3C431.1,255.2 431.2,259.1 431.3,263C431.4,266.9 431.7,270.4 432,275C432.3,279.6 431.8,286.5 433,290.7C434.2,294.9 437.4,297.1 439,300C440.6,302.9 442.7,305.5 442.5,308C442.3,310.5 439.7,312.8 438,315C436.3,317.2 434.1,318.9 432.1,321.3C430.1,323.7 427.8,326.2 426.2,329.2C424.6,332.1 423.6,335.7 422.3,339C421,342.3 420.3,345.9 418.3,348.9C416.3,351.9 413.4,354.5 410.5,356.8C407.6,359.1 403.2,360.5 400.6,362.7C398,364.9 396.2,367.5 394.7,370C393.2,372.5 392.4,374.9 391.7,377.8C391,380.7 391.5,384.7 390.7,387.6C389.9,390.6 388.4,393.5 386.8,395.5C385.2,397.5 383.2,399.1 380.9,399.4C378.6,399.7 376,398.5 373,397.5C370,396.5 366,395.1 363,393.5C360,391.9 358.1,389.4 355.2,387.6C352.3,385.8 348.7,383.7 345.4,382.7C342.1,381.7 339.1,381.7 335.5,381.7C331.9,381.7 327.6,382.5 323.7,382.7C319.8,382.9 315.9,380.1 312,383C308.1,385.9 300.3,389.7 300,400C299.7,410.3 303.3,435.8 310,445C316.7,454.2 325,444.7 340,455C355,465.3 376.7,498.3 400,507C423.3,515.7 466.7,519.8 480,507C493.3,494.2 484.7,444.7 480,430C475.3,415.3 457.7,421 452,419C446.3,417 448.3,418.8 446,418.2C443.7,417.6 440.6,416.8 438,415.2C435.4,413.6 432.5,410.9 430.2,408.3C427.9,405.7 425.6,402.5 424.3,399.4C423,396.3 422.3,392.9 422.3,389.6C422.3,386.3 423.3,382.7 424.3,379.7C425.3,376.7 426.2,374.4 428.2,371.8C430.1,369.2 434.2,365.8 436,364C437.8,362.2 437,361.8 439.2,360.9C441.4,360 445.7,359.7 449,358.9C452.3,358.1 455.9,357.3 458.9,356C461.9,354.7 464.5,352.8 466.8,351C469.1,349.2 470.7,347.3 472.7,345C474.7,342.7 476.6,339 478.6,337.2C480.6,335.4 481.3,335.1 484.5,334.2C487.7,333.2 493,332.4 498,331.5C503,330.6 510.4,329.7 514.7,328.6C519,327.5 519,325.6 524,325C529,324.4 540.7,334.2 545,325C549.3,315.8 555.8,288.3 550,270C544.2,251.7 525,225 510,215C495,205 471.7,208.5 460,210C448.3,211.5 444.6,220.7 440,224Z" fill="#97d6b9"/>
<path d="M245,402C245.2,399.6 248.9,399.1 251.3,397.9C253.7,396.7 256.2,395.6 259.2,395C262.1,394.4 265.7,394 269,394C272.3,394 276.4,394.2 278.9,395C281.4,395.8 283,396 284,398.5C285,401 290.7,407.8 285,410C279.3,412.2 256.7,413.3 250,412C243.3,410.7 244.8,404.4 245,402Z" fill="#97d6b9"/>
<path d="M93,105C96.6,107.9 92.8,104.2 91.6,107.6C90.4,111 88.1,120.1 85.6,125.4C83.1,130.7 79.3,134.6 76.8,139.2C74.3,143.8 71.5,148.7 70.8,153C70.1,157.3 71.3,161.5 72.8,164.8C74.3,168.1 76.2,170.6 79.7,172.7C83.2,174.8 88.6,177.4 93.5,177.6C98.4,177.8 104.7,175 109.3,173.7C113.9,172.4 116.1,170.2 121,169.7C125.9,169.2 133.6,170 138.9,170.7C144.2,171.4 148.1,173 152.7,173.7C157.3,174.4 162.2,173.9 166.5,174.7C170.8,175.5 174.8,176.8 178.3,178.6C181.8,180.4 185.6,183.3 187.5,185.5C189.4,187.7 189.6,190.1 189.8,192C190,193.9 189.4,195 188.6,197C187.8,199 186.7,201.7 184.7,203.8C182.7,205.9 180.1,207.9 176.8,209.7C173.5,211.5 168.6,213 165,214.7C161.4,216.3 158.9,218 155,219.6C151.1,221.2 146.2,223.3 141.3,224.5C136.4,225.7 130.8,225.8 125.5,226.5C120.2,227.2 114.3,227.7 109.7,228.5C105.1,229.3 101.2,230.2 97.9,231.4C94.6,232.7 99.7,232.9 90,236C80.3,239.1 56.7,256 40,250C23.3,244 -1.7,220 -10,200C-18.3,180 -23.3,148.3 -10,130C3.3,111.7 52.8,94.2 70,90C87.2,85.8 89.4,102.1 93,105Z" fill="#cfecb3"/>
<path d="M272.3,176.5C274.2,174.8 278.2,171.2 281,171C283.8,170.8 287.2,173.4 289,175.5C290.8,177.6 291.8,180.3 292,183.4C292.2,186.5 291.2,190.9 290,194.2C288.8,197.5 287.1,201.1 285,203C282.9,204.9 279.5,206.2 277.2,205.5C274.9,204.8 272.8,201.7 271.3,199C269.8,196.3 268.6,192.2 268.3,189.3C268,186.4 268.6,183.5 269.3,181.4C270,179.3 270.4,178.2 272.3,176.5Z" fill="#cfecb3"/>
<path d="M12,203C15.2,200.8 16.7,202.6 19,202C21.3,201.4 22.4,200.8 25.6,199.5C28.9,198.2 33.4,195.9 38.5,194.4C43.6,192.9 50,191.4 56.4,190.5C62.8,189.6 70.8,188.9 77,189.2C83.2,189.5 89.3,190.7 93.5,192.4C97.7,194.1 99.4,198.6 102.4,199.3C105.4,200 108.8,198.1 111.3,196.4C113.8,194.8 114.9,191.2 117.2,189.4C119.5,187.6 121.4,186 125,185.5C128.6,185 135.5,185.2 138.9,186.5C142.3,187.8 144.3,190.1 145.5,193C146.7,195.9 146.9,200.7 146.2,203.8C145.5,206.9 143.8,209.4 141.3,211.7C138.8,214 135,216.3 131.4,217.6C127.8,218.9 123.9,219.4 119.6,219.6C115.3,219.8 110.1,218.6 105.8,218.6C101.5,218.6 97.3,218.4 94,219.6C90.7,220.8 91.7,220.9 86,226C80.3,231.1 70.2,248.5 60,250C49.8,251.5 35,240.8 25,235C15,229.2 2.2,220.3 0,215C-2.2,209.7 8.8,205.2 12,203Z" fill="#eff9b5"/>
<path d="M104,273C105.8,270.9 108.8,273.2 110.7,272.3C112.6,271.4 113.1,269 115.6,267.9C118.1,266.8 121.9,265.9 125.5,265.9C129.1,265.9 133.4,266.8 137.3,267.9C141.2,269 145.6,271 149.2,272.8C152.8,274.6 155.7,277.2 159,278.8C162.3,280.4 165.6,282.1 168.9,282.7C172.2,283.3 174.9,283.2 178.8,282.7C182.8,282.2 187.7,280.7 192.6,279.7C197.5,278.7 202.4,277.8 208.3,276.8C214.2,275.8 222.7,274.6 228,273.8C233.3,273.1 236,272.4 239.9,272.3C243.8,272.2 247.8,272.7 251.7,273.3C255.6,273.9 259.7,275.6 263.6,276.2C267.6,276.8 272.3,277 275.4,277.2C278.5,277.4 280.1,276.9 282,277.5C283.9,278.1 285.2,279.4 287,281C288.8,282.6 290.8,285.2 293,287C295.2,288.8 297.8,291.2 300,292C302.2,292.8 304.3,292.7 306,292C307.7,291.3 309.2,289.8 310,288C310.8,286.2 310.4,283.2 311,281C311.6,278.8 311.3,277.3 313.3,275C315.3,272.7 319.7,269.5 323,267.2C326.3,264.9 330,263.1 333,261.3C336,259.5 337.6,257.7 340.9,256.4C344.2,255.1 348.4,254.2 352.7,253.4C357,252.6 362.2,252.1 366.5,251.4C370.8,250.7 375,250.9 378.3,249.4C381.6,247.9 382.9,244.5 386.2,242.5C389.5,240.5 394.1,238.6 398,237.6C401.9,236.6 406.8,235.9 409.9,236.6C413,237.3 415.8,239.5 416.8,241.6C417.8,243.7 416.6,246.4 415.8,249.4C415,252.4 412.9,256 411.9,259.3C410.9,262.6 410.1,265.9 409.9,269.2C409.7,272.5 410.3,275.7 410.9,279C411.5,282.3 413.1,285.8 413.5,288.9C413.9,292 414.6,295.5 413.4,297.6C412.2,299.7 409,301.6 406.5,301.6C404,301.6 400.7,299.6 398.6,297.6C396.5,295.6 395.7,291.9 393.7,289.7C391.7,287.5 389.6,285 386.8,284.2C384,283.4 380.3,283.6 377,284.8C373.7,286.1 370.3,289.2 367,291.7C363.7,294.2 361.8,298.1 357.2,299.6C352.6,301.1 344.4,300.5 339.4,300.6C334.4,300.7 329.6,299.6 327,300.3C324.4,301 324.4,302.7 323.8,305C323.2,307.3 323.2,311.6 323.5,314C323.8,316.4 323.6,317.8 325.6,319.3C327.6,320.9 331.9,322.8 335.5,323.3C339.1,323.8 344,323.1 347.3,322.3C350.6,321.5 352.2,318.6 355.2,318.3C358.1,318 362,319 365,320.3C368,321.6 370.7,323.8 373,326.2C375.3,328.6 377.8,331.9 378.9,335C380,338.1 379.9,341.7 379.9,345C379.9,348.3 378.7,351.9 378.9,354.8C379.1,357.8 381.2,360.3 380.9,362.7C380.6,365.1 380.5,367.9 377,369C373.5,370.1 364.5,368.8 360,369.3C355.5,369.9 353.7,371.5 350,372.3C346.3,373.1 342,374 338,374.2C334,374.4 329.5,373.2 326.2,373.3C322.9,373.4 320.4,374.2 318,375C315.6,375.8 314.2,376.8 312,378C309.8,379.2 307.2,381.5 305,382C302.8,382.5 300.7,380.8 298.6,381C296.6,381.2 295.3,382.2 292.7,383C290.1,383.8 286.8,385.7 282.8,386C278.9,386.3 272.9,385.8 269,385C265.1,384.2 262.5,382.6 259.2,381.1C255.9,379.6 252.6,377.4 249.3,376.2C246,375 243,374 239.4,374.2C235.8,374.4 231.7,376.2 227.6,377.2C223.5,378.2 218.8,385.4 215,380C211.2,374.6 215.8,352.5 205,345C194.2,337.5 160,343.3 150,335C140,326.7 153.3,303.3 145,295C136.7,286.7 106.8,288.7 100,285C93.2,281.3 102.2,275.1 104,273Z" fill="#eff9b5"/>
<path d="M484,352C484.4,350 486.8,351 488.5,350C490.2,349 492.1,346.8 494.4,346C496.7,345.2 500,344.8 502.3,345C504.6,345.2 507.4,344.2 508,347C508.6,349.8 509.7,359.5 506,362C502.3,364.5 489.7,363.7 486,362C482.3,360.3 483.6,354 484,352Z" fill="#eff9b5"/>
<path d="M440,389.6C439.3,387 440.7,382.7 442,379.7C443.3,376.7 445.7,373.8 448,371.8C450.3,369.8 453.3,368.6 455.8,367.9C458.3,367.2 460.1,367.8 462.8,367.8C465.5,367.8 470.8,363.1 472,368C473.2,372.9 472.7,392.3 470,397C467.3,401.7 460,396.2 456,396C452,395.8 448.7,396.6 446,395.5C443.3,394.4 440.7,392.2 440,389.6Z" fill="#eff9b5"/>
<path d="M199.7,311.6C199.8,308.2 203,304.5 205.6,301.7C208.2,298.9 211.6,296.4 215.5,294.8C219.4,293.2 225,292.1 229.3,291.8C233.6,291.5 238.2,291.5 241.1,292.8C244,294.1 245.8,297.2 247,299.7C248.2,302.2 247.7,305.6 248.5,308C249.3,310.4 250.4,312.8 252,314C253.6,315.2 256.2,315.8 258,315.5C259.8,315.2 261.3,313.2 263,312C264.7,310.8 266.4,308.9 268,308C269.6,307.1 270.3,306.3 272.7,306.6C275.1,306.9 279.3,307.8 282.6,309.6C285.9,311.4 289.1,315 292.4,317.5C295.7,320 299.4,321.8 302.3,324.4C305.2,327 307.7,330.2 310,333.3C312.3,336.4 314.7,339.7 316,343C317.3,346.3 318.3,350.6 318,353C317.7,355.4 316.3,356.1 314.4,357.5C312.5,358.9 309.1,359.9 306.5,361.4C303.9,362.9 301.2,364.8 298.6,366.4C296,368 294,370.1 290.7,371.3C287.4,372.5 282.8,373.6 278.9,373.3C274.9,373 269.1,371.6 267,369.3C264.9,367 266.2,363 266,359.4C265.8,355.8 266.8,351.2 266,347.6C265.2,344 263.4,340.4 261,337.8C258.6,335.2 255,332.9 251.3,331.8C247.6,330.7 242.9,331.2 239,331C235.1,330.8 231.5,330.3 228,330.5C224.5,330.7 221.8,333.4 218,332C214.2,330.6 208.1,325.4 205,322C201.9,318.6 199.6,315 199.7,311.6Z" fill="#ffffd9"/>
<path d="M319,349C321,348 323.2,346.2 326,346C328.8,345.8 333.4,346.7 335.8,348C338.2,349.3 340,352 340.7,354C341.4,356 341.3,358.6 339.8,359.9C338.3,361.2 334.4,361.9 331.9,361.9C329.4,361.9 327.6,360 325,360C322.4,360 317.8,363.3 316,362C314.2,360.7 313.5,354.2 314,352C314.5,349.8 317,350 319,349Z" fill="#ffffd9"/>
<path d="M166,112C165.9,116.8 165.6,115.6 164.5,118.5C163.4,121.4 161.6,125.9 159.6,129.3C157.6,132.8 155.2,136.4 152.7,139.2C150.2,142 146.6,144.4 144.8,146C143,147.6 141.5,147.9 141.8,149C142.1,150.1 144,151.9 146.8,152.6C149.6,153.3 154.7,153.3 158.6,153C162.5,152.7 166.6,152 170.5,151C174.4,150 178.4,148.2 182.3,147C186.2,145.8 189.7,144.6 194,144C198.3,143.4 204,143.2 208,143.5C212,143.8 214.9,144.9 217.8,146C220.8,147.1 223.4,148.7 225.7,150C228,151.3 229.3,152.7 231.6,154C233.9,155.3 236.7,157.3 239.7,157.8C242.7,158.3 246.3,157.8 249.6,156.8C252.9,155.8 255.8,153.3 259.4,151.8C263,150.3 267,149.2 271.3,147.9C275.6,146.6 280.4,145.3 285,144C289.6,142.7 294.1,142 299,140C303.9,138 310.8,135 314.7,132C318.6,129 319.7,125.3 322.6,122.2C325.6,119.1 329.1,115 332.4,113.3C335.7,111.6 339.2,111.6 342.3,112.3C345.4,113 349.4,115 351.2,117.3C353,119.6 353.3,123 353.1,126.1C352.9,129.2 351.4,133 350.2,136C349,139 348.2,141.3 346.2,143.9C344.2,146.5 340.1,148.2 338.3,151.8C336.5,155.4 335.7,161.7 335.4,165.6C335.1,169.5 336.4,171.9 336.4,175.5C336.4,179.1 335.9,184.1 335.4,187.3C334.9,190.6 334.6,193.5 333.5,195C332.4,196.5 331.5,196.4 329,196.3C326.5,196.2 322,194.2 318.6,194.2C315.2,194.2 311.1,195.1 308.8,196.2C306.5,197.3 305.4,199 304.8,201C304.2,203 303.5,206.8 305.5,208C307.5,209.2 313.8,208.8 316.6,208C319.5,207.2 320.3,204.4 322.6,203C324.9,201.6 327.9,199.8 330.5,199.5C333.1,199.2 335.4,199.8 338.3,201C341.2,202.2 344.9,205.3 348.2,207C351.5,208.7 353.7,210.2 358,211C362.3,211.8 368.9,212.2 373.8,212C378.8,211.8 383.1,210.7 387.7,210C392.3,209.3 397.9,207.9 401.5,208C405.1,208.1 406.6,209.7 409.6,210.8C412.6,211.9 416.3,213.6 419.4,214.8C422.5,216 424.9,216.9 428.3,217.8C431.7,218.7 433.1,220.5 440,220C446.9,219.5 463.3,231.7 470,215C476.7,198.3 503.3,149.2 480,120C456.7,90.8 382.5,45 330,40C277.5,35 192.3,78 165,90C137.7,102 166.1,107.2 166,112Z" fill="#5dc0c0"/>
<path d="M227,211C227.3,208 228.1,203.5 229.9,201C231.7,198.5 234.8,196.5 237.7,196.2C240.6,195.9 244.3,197 247.6,199C250.9,201 254.7,205 257.5,208C260.3,211 262.9,213.9 264.4,217C265.9,220.1 266.7,223.9 266.4,226.8C266.1,229.8 264.9,232.7 262.4,234.7C259.9,236.7 255,238.3 251.6,238.6C248.2,238.9 245,238.2 241.7,236.6C238.4,235 234.1,231.8 231.8,228.8C229.5,225.9 228.7,221.9 227.9,218.9C227.1,215.9 226.7,214 227,211Z" fill="#5dc0c0"/>
<path d="M452,226C451.3,229 451.6,230.5 450.8,232.8C450,235.1 448.1,236.8 447,240C445.9,243.2 444.8,248.3 444.2,252C443.6,255.7 443.6,258.2 443.7,262C443.8,265.8 443.9,270.6 444.5,275C445.1,279.4 445.4,283.8 447.2,288.4C449,293 452.1,298.5 455.5,302.6C458.9,306.7 463,310.5 467.3,313.2C471.6,315.9 476.4,318 481.5,319C486.6,320 492.5,319.6 498,319C503.5,318.4 510,316.4 514.7,315.6C519.5,314.8 523.4,313.8 526.5,314.4C529.6,315 530.5,317.7 533.6,319C536.7,320.3 542.3,331.8 545,322C547.7,312.2 556.7,277.8 550,260C543.3,242.2 520.8,222.5 505,215C489.2,207.5 463.8,213.2 455,215C446.2,216.8 452.7,223 452,226Z" fill="#5dc0c0"/>
<path d="M435.2,341C435,338.7 435.9,336 437.2,334.2C438.5,332.4 440.7,331.1 443,330.3C445.3,329.5 448.8,328.7 451,329.3C453.2,329.9 454.9,332.2 456,334.2C457.1,336.1 458.4,338.9 457.9,341C457.4,343.1 455.1,345.5 453,347C450.9,348.5 447.5,349.8 445,350C442.5,350.2 439.8,349.5 438.2,348C436.6,346.5 435.4,343.3 435.2,341Z" fill="#5dc0c0"/>
<path d="M310,390C312.6,386.6 315.4,390 318.7,389.6C322,389.2 325.5,388.1 329.6,387.6C333.7,387.1 339.4,385.8 343.4,386.6C347.3,387.4 350,390.4 353.3,392.5C356.6,394.6 359.4,396.9 363,399.4C366.6,401.9 371,405.1 375,407.3C379,409.5 382.9,411 386.8,412.3C390.7,413.6 395,414.1 398.6,415.2C402.2,416.3 405.5,417.6 408.5,419.2C411.5,420.8 413.8,422.9 416.4,425C419,427.1 421.4,430 424.3,432C427.2,434 430.4,435.6 434,436.9C437.6,438.1 442.7,438.6 446,439.5C449.3,440.4 451.1,441.6 453.8,442.5C456.5,443.4 459.6,444.1 462,445C464.4,445.9 468.2,447.3 468,448C467.8,448.7 462.7,448 460.7,449.4C458.7,450.8 457.1,453.8 455.8,456.3C454.5,458.8 452.9,461.6 452.9,464.2C452.9,466.8 454.6,469.9 455.8,472C457,474.1 460.1,475.7 459.8,477C459.5,478.3 456.1,479 453.8,480C451.5,481 449,481.9 446,483C443,484.1 439,485.9 436,486.9C433,487.9 430.8,489.2 428.2,488.9C425.6,488.6 422.6,486.5 420.3,484.9C418,483.2 416.4,481.1 414.4,479C412.4,476.9 410.5,474.1 408.5,472C406.5,469.9 404.9,467.8 402.6,466.2C400.3,464.6 397.3,463.2 394.7,462.2C392.1,461.2 389.4,461.3 386.8,460.3C384.2,459.3 382,456 378.9,456.3C375.8,456.6 374.5,463.4 368,462C361.5,460.6 348.8,451.3 340,448C331.2,444.7 321.2,448.3 315,442C308.8,435.7 303.8,418.7 303,410C302.2,401.3 307.4,393.4 310,390Z" fill="#5dc0c0"/>
<path d="M287,80C287.2,84 286.5,82.6 286,85.7C285.5,88.8 285.2,94.4 284,98.5C282.8,102.6 281.1,107 279,110.4C276.9,113.9 274.2,116.9 271.3,119.2C268.4,121.5 265,123.4 261.4,124.2C257.8,125 253.5,124.7 249.6,124.2C245.7,123.7 241,122.5 237.7,121.2C234.4,120 232.5,118.2 229.9,116.7C227.3,115.2 222.3,116.8 222,112C221.7,107.2 222.5,95.8 228,88C233.5,80.2 245.5,69.3 255,65C264.5,60.7 279.7,59.5 285,62C290.3,64.5 286.8,76 287,80Z" fill="#31a6c2"/>
<path d="M388,113C383.1,116.3 387,116.6 385.4,119.7C383.8,122.8 380.8,127.3 378.5,131.6C376.2,135.9 373.9,140.8 371.6,145.4C369.3,150 366.5,154.9 364.7,159.2C362.9,163.5 361.5,167.4 360.7,171C359.9,174.6 359.2,177.6 359.7,180.9C360.2,184.2 361.7,187.9 363.7,190.7C365.7,193.5 368.5,196.6 371.6,197.6C374.7,198.6 379.4,198.1 382.4,196.6C385.3,195.1 387.5,191.4 389.3,188.8C391.1,186.2 391.4,182.9 393.3,180.9C395.2,178.9 397.4,177.4 401,176.9C404.6,176.4 410.4,177.2 415,178C419.6,178.8 424.9,180.8 428.8,181.9C432.7,183 434.7,183.8 438.6,184.8C442.5,185.8 446.8,195.5 452,188C457.2,180.5 476.2,154.7 470,140C463.8,125.3 428.7,104.5 415,100C401.3,95.5 392.9,109.7 388,113Z" fill="#31a6c2"/>
<path d="M468,224C467.3,226.4 467,227 466,229.7C465,232.4 463,236.3 462,240C461,243.7 460.4,248.3 460,252C459.6,255.7 459.8,258.2 459.8,262C459.9,265.8 459.8,271 460.3,275C460.8,279 461,282.2 462.6,286C464.2,289.8 466.9,294.6 469.7,297.8C472.5,301 475.6,303.3 479.2,305C482.8,306.7 487.1,307.6 491,307.8C494.9,308 498.5,307.1 502.8,306C507.1,304.9 512.6,302.8 517,301.4C521.4,300 524.2,298.9 528.9,297.8C533.6,296.7 541.5,303 545,295C548.5,287 556.7,263.3 550,250C543.3,236.7 518.3,220.8 505,215C491.7,209.2 476.2,213.5 470,215C463.8,216.5 468.7,221.6 468,224Z" fill="#31a6c2"/>
<path d="M308,398C309.6,395.9 312.2,398.2 314.8,397.5C317.4,396.8 320.2,394.3 323.7,393.5C327.1,392.7 331.9,392.2 335.5,392.5C339.1,392.8 342.4,394.4 345.4,395.5C348.4,396.6 351,397.4 353.3,399.4C355.6,401.4 356.9,404.3 359.2,407.3C361.5,410.3 364,414.4 367,417.2C370,420 373.7,422.4 377,424C380.3,425.6 383.5,426.2 386.8,427C390.1,427.8 394,427.8 396.6,429C399.2,430.2 401.4,432.4 402.6,434C403.8,435.6 404.3,437.3 403.6,438.9C402.9,440.5 401.1,442.6 398.6,443.8C396.1,445 392.1,445.3 388.8,445.8C385.5,446.3 382.2,446.2 378.9,446.8C375.6,447.4 371.8,448.5 369,449.7C366.2,450.9 365.2,454.6 362,454C358.8,453.4 353.2,448.7 350,446C346.8,443.3 344.3,440 343,438C341.7,436 343,435.5 342.4,434C341.8,432.5 341.2,430.5 339.4,429C337.6,427.5 334.1,426.3 331.5,425C328.9,423.7 326.4,421.8 323.7,421C320.9,420.2 318.1,421.8 315,420C311.9,418.2 306.2,413.7 305,410C303.8,406.3 306.4,400.1 308,398Z" fill="#31a6c2"/>
<path d="M484,226C480.3,227.9 483.6,229.1 482.7,231.6C481.8,234.1 479.6,237.6 478.5,241C477.4,244.4 476.4,248.5 475.8,252C475.2,255.5 475.1,258.7 475,262C474.9,265.3 474.8,268 475,272C475.2,276 475,282.1 476.3,286C477.6,289.9 479.9,293.3 482.7,295.5C485.5,297.7 489.6,298.8 493.4,299C497.1,299.2 501.3,298.1 505.2,296.7C509.1,295.3 513.6,292.5 517,290.7C520.4,288.9 521.5,287.4 525.3,286C529.1,284.6 536.7,288 540,282C543.3,276 550.8,260.3 545,250C539.2,239.7 515.2,224 505,220C494.8,216 487.7,224.1 484,226Z" fill="#1f80b8"/>
<path d="M336.5,408.3 343.8,401.8 352.9,408.3 344.4,415.2Z" fill="#1f80b8"/>
<path d="M496,234C494.1,234.6 494.9,236.4 493.4,238.7C491.9,241 488.7,244.8 487,248C485.3,251.2 484,254.7 483,258C482,261.3 481.3,265 481,268C480.7,271 480.8,273.4 481,276C481.2,278.6 480.7,281.2 482,283.6C483.3,286.1 485.9,289.3 488.6,290.7C491.3,292.1 494.8,292.6 498,292C501.2,291.4 504.8,288.6 507.6,287.2C510.4,285.8 511.8,284.5 514.7,283.6C517.6,282.7 522.5,285.9 525,282C527.5,278.1 533.3,267.8 530,260C526.7,252.2 510.7,239.3 505,235C499.3,230.7 497.9,233.4 496,234Z" fill="#2355a4"/>
<path d="M505,249C502.3,249.8 503.4,251.4 501.7,252.9C500,254.4 497.1,256 495,258C492.9,260 490.4,262.7 489,265C487.6,267.3 486.6,269.3 486.3,272C486.1,274.7 486.3,279 487.5,281.3C488.7,283.6 491.2,285.4 493.4,286C495.6,286.6 498.5,285.8 500.5,284.8C502.5,283.8 503.3,281.5 505.2,280C507.1,278.5 509.5,279 512,276C514.5,273 519,266.7 520,262C521,257.3 520.5,250.2 518,248C515.5,245.8 507.7,248.2 505,249Z" fill="#22318d"/>
<path d="M496.6,266.5 498.6,264 499.6,268 500.2,274 496.2,275.2 495.4,272Z" fill="#081d58"/>
<path d="M316,421.5C317.8,418.5 321.4,421.3 324,422C326.6,422.7 329.2,424.2 331.5,425.5C333.8,426.8 336.3,427.9 338,429.5C339.7,431.1 341,433.2 341.5,435C342,436.8 342.9,438.5 341,440C339.1,441.5 334.7,444 330,444C325.3,444 315.3,443.8 313,440C310.7,436.2 314.2,424.5 316,421.5Z" fill="#5dc0c0"/>
<path d="M317,424.8C318.8,422.6 322.6,424.9 325,425.5C327.4,426.1 329.6,427.3 331.5,428.5C333.4,429.7 335.4,431 336.5,432.5C337.6,434 339.2,435.8 338.3,437.5C337.4,439.2 335.1,442.8 331,443C326.9,443.2 316.3,442 314,439C311.7,436 315.2,427.1 317,424.8Z" fill="#97d6b9"/>
</g>
<use href="#ov"/>
</g>
<g id="mapR" transform="translate(640,0)">
<g clip-path="url(#be)">
<rect x="0" y="60" width="560" height="447" fill="#e7cf94"/>
<path d="M205,120C204.2,131.6 205,125.3 205,129.5C205,133.7 204,141.3 205,145.2C206,149.1 209.3,150.4 211,153C212.7,155.6 214.2,158.3 215,161C215.8,163.7 216.3,166 216,169C215.7,172 213.9,175.6 213,178.8C212.1,182 211.9,185.8 210.5,188C209.1,190.2 206.5,190.5 204.5,192C202.5,193.5 201.5,196.2 198.6,196.9C195.7,197.6 190.1,195.6 186.8,195.9C183.5,196.2 180.7,197.2 178.9,198.9C177.1,200.6 177.5,203 176,205.8C174.5,208.6 169.5,213.3 170,215.6C170.5,217.9 175.8,219.4 178.9,219.6C182,219.8 185.5,216.9 188.8,216.6C192.1,216.3 195.7,216.4 198.6,217.6C201.5,218.8 204.2,221.2 206.5,223.5C208.8,225.8 210.4,228.8 212.4,231.4C214.4,234 217.2,236.3 218.3,239.3C219.5,242.3 218.6,246.4 219.3,249.2C220,252 219.9,254.5 222.3,256C224.8,257.5 229.7,257.8 234,258C238.3,258.2 243.7,256.8 248,257C252.3,257.2 256.2,257.5 259.8,259C263.4,260.5 266.7,263.7 269.6,266C272.6,268.3 275.6,270.9 277.5,272.8C279.4,274.7 279.6,275.8 281,277.5C282.4,279.2 283.9,281.4 286,283.3C288.1,285.2 290.5,287.8 293.8,289.2C297.1,290.6 302.6,292.3 305.6,292C308.6,291.7 310.3,289.6 311.6,287.2C312.9,284.8 312.2,280.1 313.5,277.3C314.8,274.5 316.4,272.4 319.4,270.4C322.4,268.4 326.7,266.8 331.3,265.5C335.9,264.2 341.4,263 347,262.5C352.6,262 359.5,263 364.8,262.5C370.1,262 375,261.4 378.6,259.6C382.2,257.8 383.9,254.3 386.5,251.7C389.1,249.1 391.4,245.6 394.4,243.8C397.4,242 401.4,240.9 404.3,240.8C407.2,240.8 409.7,242.2 412,243.5C414.3,244.8 416,246.4 418,248.5C420,250.6 421.8,253.2 424,256C426.2,258.8 428.5,262 431,265C433.5,268 436.8,271.5 439,274C441.2,276.5 441.7,278 444,280C446.3,282 449.5,284.2 453,286C456.5,287.8 461.5,288.8 464.8,290.8C468.1,292.8 470.4,295.3 472.7,297.8C475,300.3 476,303.8 478.6,305.6C481.2,307.4 485.2,308.6 488.5,308.6C491.8,308.6 495.4,307.1 498.3,305.6C501.2,304.1 502.9,301.3 506.2,299.7C509.5,298.1 514.5,296.8 518,295.8C521.5,294.9 522.5,294.6 527,294C531.5,293.4 541.2,316 545,292C548.8,268 574.2,190.3 550,150C525.8,109.7 456.7,65 400,50C343.3,35 242.5,48.3 210,60C177.5,71.7 205.8,108.4 205,120Z" fill="#f6eed9"/>
<path d="M159.8,149C159.1,147.2 161.7,142.6 163.7,139.3C165.7,136 169.1,131.5 171.6,129.4C174.1,127.4 175.8,126.2 178.5,127C181.2,127.8 185.1,131.5 188,134C190.9,136.5 194.3,139.3 195.8,141.8C197.3,144.3 197.9,147.1 197.2,149C196.4,150.9 194.4,152.7 191.3,153C188.2,153.3 182.4,151.5 178.5,151C174.6,150.5 170.8,150.3 167.7,150C164.6,149.7 160.5,150.8 159.8,149Z" fill="#f6eed9"/>
<path d="M222,116C221.6,126.4 222,119.9 222.8,122.5C223.6,125.1 224.8,128.3 226.8,131.4C228.8,134.5 232.4,138.5 234.7,141.3C237,144.1 238.3,145.9 240.6,148.2C242.9,150.5 245.6,153 248.5,155C251.4,157 255,158.8 258.3,160C261.6,161.2 264.9,161.8 268.2,162C271.5,162.2 274.4,161.7 278,161C281.6,160.3 287,158.3 290,158C293,157.7 294.5,157.8 295.8,159C297.1,160.2 297.6,162.7 297.8,165C298,167.3 297.8,170 297,172.8C296.2,175.6 294.3,178.9 293,181.7C291.7,184.5 290.7,186.6 289,189.6C287.3,192.6 285,196.9 283,199.4C281,201.9 279.5,204.4 277.2,204.4C274.9,204.4 272.3,200.9 269.3,199.4C266.3,197.9 263,196.7 259.4,195.5C255.8,194.3 251.5,192.5 247.6,192.5C243.7,192.5 239.4,193.7 235.8,195.5C232.2,197.3 228.3,200.1 226,203.4C223.7,206.7 222,210.9 222,215.2C222,219.5 224,225.4 226,229C228,232.6 230.5,235.3 233.8,237C237.1,238.7 241.3,239.2 245.6,239C249.9,238.8 254.5,237 259.4,236C264.3,235 270.9,233.6 275.2,233C279.5,232.4 282.2,231.9 285,232.5C287.8,233.1 289.6,234.9 292,236.5C294.4,238.1 296.8,240.1 299.7,241.8C302.6,243.5 304.7,245.6 309.6,246.8C314.5,248 322.7,248.8 329.3,249.2C335.9,249.6 342.4,249.4 349,249C355.6,248.6 363.2,248 368.8,246.5C374.4,245 378.3,241.8 382.6,240C386.9,238.2 390.1,236.6 394.4,235.5C398.7,234.4 404,233.2 408.2,233.5C412.4,233.8 416.1,235.5 419.7,237.5C423.3,239.5 426.6,243.1 429.6,245.4C432.6,247.7 434.9,249.3 437.5,251.3C440.1,253.3 443.1,254.9 445.4,257.2C447.7,259.5 449,262.4 451.3,265C453.6,267.6 456.2,270.9 459.2,273C462.1,275.1 465.7,276.6 469,277.9C472.3,279.2 476.3,279.4 478.9,280.9C481.5,282.4 482.2,285.3 484.8,286.8C487.4,288.3 491.1,289.5 494.7,289.7C498.3,289.9 502.6,288.6 506.5,287.8C510.4,287 514.9,285.6 518.3,284.8C521.7,284 522.5,283.8 527,283C531.5,282.2 541.2,302.2 545,280C548.8,257.8 574.2,188.3 550,150C525.8,111.7 454.2,65 400,50C345.8,35 254.7,49 225,60C195.3,71 222.4,105.6 222,116Z" fill="#dbefec"/>
<path d="M262,66C258,69.6 263.9,73.5 266,76.8C268.1,80.1 273,81.8 274.8,85.6C276.6,89.4 276.3,94.5 276.8,99.4C277.3,104.3 276.8,110.6 277.8,115.2C278.8,119.8 281.2,123 282.7,127C284.2,130.9 285.1,134.6 286.6,138.9C288.1,143.2 290,149.3 291.6,152.7C293.2,156.1 294.7,158.5 296,159.5C297.3,160.5 297.5,159.4 299.4,158.6C301.3,157.8 304,156.7 307.3,154.7C310.6,152.7 316.1,150.1 319.2,146.8C322.3,143.5 324.5,139 326,135C327.5,131 327,126.6 328,123C329,119.4 331,116.9 332,113.3C333,109.7 334.3,104.9 334,101.4C333.7,97.9 330.5,96.4 330,92.5C329.5,88.6 332.7,83.4 331,78C329.3,72.6 326.8,63.8 320,60C313.2,56.2 299.7,54 290,55C280.3,56 266,62.4 262,66Z" fill="#f6eed9"/>
<path d="M235,94C230.4,95.2 236.2,97.3 236.6,99.9C237,102.5 236.9,106.4 237.6,109.7C238.3,113 239.1,116.3 240.6,119.6C242.1,122.9 244.2,126.6 246.5,129.4C248.8,132.2 251.8,134.7 254.4,136.3C257,138 260,139.1 262.3,139.3C264.6,139.5 267.1,139 268.2,137.3C269.3,135.7 269.5,133.3 269.2,129.4C268.9,125.5 267.1,118.5 266.2,113.7C265.2,108.9 263.9,104.2 263.5,100.8C263.1,97.3 268.8,94.1 264,93C259.2,91.9 239.6,92.8 235,94Z" fill="#98d7cd"/>
<path d="M364,104C357.4,107.2 362.2,107.1 360.6,109.3C359.1,111.5 356.2,114.2 354.7,117.2C353.2,120.2 352.6,124 351.7,127C350.8,130 350.2,132.5 349.5,135C348.8,137.5 348.3,139 347.3,141.8C346.3,144.6 344.7,148.4 343.4,151.7C342.1,155 340.5,158.6 339.4,161.6C338.2,164.6 337.3,166.8 336.5,169.4C335.7,172 335.3,175 334.5,177.3C333.7,179.6 333.1,181.6 331.6,183.3C330.1,185 328.2,186.8 325.6,187.5C323,188.2 318.8,187.4 315.8,187.5C312.9,187.6 310.7,187.2 307.9,188C305.1,188.8 301.2,190.6 298.9,192.5C296.6,194.4 295,196.9 294,199.4C293,201.9 292.7,204.7 293,207.3C293.3,209.9 294.7,212.9 296,215.2C297.3,217.5 299.4,218.7 300.9,221C302.4,223.3 303.8,226.5 304.8,229C305.8,231.5 305.2,234.8 306.8,236C308.4,237.2 312.4,237.2 314.7,236C317,234.8 318.3,230.5 320.6,229C322.9,227.5 325.9,227 328.5,227C331.1,227 333.8,228 336.4,229C339,230 340.7,232.2 344.3,233C347.9,233.8 353.1,234.5 358,234C362.9,233.5 368.9,231.5 373.8,230C378.8,228.5 383.1,226.6 387.7,225C392.3,223.4 397.9,221.4 401.5,220.5C405.1,219.6 406.9,219.1 409.3,219.5C411.7,219.9 413.9,221.7 416,223C418.1,224.3 419.1,226.5 421.7,227.6C424.3,228.7 428.6,229.4 431.6,229.6C434.7,229.8 433.6,229.8 440,229C446.4,228.2 463.3,241.5 470,225C476.7,208.5 491.7,152.5 480,130C468.3,107.5 419.3,94.3 400,90C380.7,85.7 370.6,100.8 364,104Z" fill="#98d7cd"/>
<path d="M466,225C461.8,226.4 465.7,228.2 465,230.6C464.3,233 462.5,235.9 462,239.4C461.5,242.9 461.3,247.8 462,251.3C462.7,254.8 463.8,257.8 466,260.2C468.2,262.6 471.9,264.2 475,266C478.1,267.8 481.5,269.3 484.8,271C488.1,272.7 491.7,275 494.7,276C497.7,277 499.7,276.7 502.6,277C505.5,277.3 507.4,279.2 512,278C516.6,276.8 527.8,275.5 530,270C532.2,264.5 531.7,253 525,245C518.3,237 499.8,225.3 490,222C480.2,218.7 470.2,223.6 466,225Z" fill="#98d7cd"/>
<path d="M240.4,214 247.3,207.5 257.6,215 249.8,221Z" fill="#98d7cd"/>
<path d="M399,114C395,117.2 398.1,116.7 396,119.2C393.9,121.7 389.5,125.7 386.2,129C382.9,132.3 379.3,135.6 376.4,138.9C373.4,142.2 370.8,145.3 368.5,148.8C366.2,152.3 364.5,156.9 362.6,160C360.7,163.1 359.1,164.6 357.2,167.5C355.3,170.4 352.8,174 351.3,177.3C349.8,180.6 349.1,183.6 348.3,187.2C347.5,190.8 347,195.4 346.4,199C345.8,202.6 345,205.9 344.4,208.9C343.8,211.9 342.8,214.3 342.6,216.8C342.5,219.3 342.6,222.6 343.5,224C344.4,225.4 345.7,225.7 348.3,225.5C350.9,225.3 355.1,223.8 359.2,222.7C363.3,221.6 368.4,220.5 373,218.8C377.6,217.2 382.5,214.6 386.8,212.8C391.1,211 395.3,209.1 398.6,207.9C401.9,206.8 404,205.7 406.5,205.9C409,206.1 411.4,207.4 413.4,208.9C415.4,210.4 416.5,213.2 418.3,214.8C420.1,216.5 422.2,218 424.3,218.8C426.4,219.6 428.6,219.7 431.2,219.7C433.8,219.7 433.5,219.8 440,219C446.5,218.2 463.3,229.8 470,215C476.7,200.2 488.3,149.2 480,130C471.7,110.8 433.5,102.7 420,100C406.5,97.3 403,110.8 399,114Z" fill="#46a39a"/>
<path d="M477,225C474.7,226.4 476.3,228.2 476,230.6C475.7,233 474.7,235.9 475,239.4C475.3,242.9 476.5,248.2 478,251.3C479.5,254.4 481.5,256.6 483.8,258.2C486.1,259.8 489.2,260.8 491.7,261C494.2,261.2 496.6,260.3 498.6,259.2C500.6,258.1 501.9,255.7 503.6,254.2C505.3,252.7 507.1,252.4 509,250C510.9,247.6 518.2,244.7 515,240C511.8,235.3 496.3,224.5 490,222C483.7,219.5 479.3,223.6 477,225Z" fill="#46a39a"/>
<path d="M420,125C417,127.3 418.8,128 416.8,129C414.8,130 411.1,130.2 408,131C404.9,131.8 400.8,132.7 398,134C395.2,135.3 392.8,136.8 391.2,138.9C389.6,141 388.4,144.3 388.5,146.8C388.6,149.3 390,152.1 392,153.7C394,155.3 397.9,156.6 400.6,156.6C403.4,156.6 406.2,154.5 408.5,153.7C410.8,152.9 412.4,151.4 414.4,151.7C416.4,152 418.3,153.6 420.3,155.6C422.3,157.6 424.4,160.5 426.2,163.5C428,166.5 429.6,170.1 431.2,173.4C432.8,176.7 434.5,181 436,183.3C437.5,185.6 438,185.9 440,187.2C442,188.5 443,192.2 448,191C453,189.8 465.5,188.5 470,180C474.5,171.5 480.8,150.8 475,140C469.2,129.2 444.2,117.5 435,115C425.8,112.5 423,122.7 420,125Z" fill="#076b63"/>
<path d="M363,188C363.7,185.9 365,183 367,181.3C369,179.6 372.4,178.2 375,178C377.6,177.8 380.5,178.8 382.8,180.3C385.1,181.8 387.8,184.6 388.8,187.2C389.8,189.8 389.8,193.2 389,196C388.2,198.8 386.1,202.5 383.8,204C381.5,205.5 377.8,205.5 375,205C372.2,204.5 369,202.8 367,201C365,199.2 363.7,196.2 363,194C362.3,191.8 362.3,190.1 363,188Z" fill="#076b63"/>
<path d="M441,133C439.1,134.3 439.2,135.9 438.5,137.9C437.8,139.9 437,142.3 437,144.8C437,147.3 437.8,150.8 438.5,152.7C439.2,154.6 439.9,154.8 441,156C442.1,157.2 443.2,158.4 445,159.6C446.8,160.8 448.7,162.9 452,163C455.3,163.1 462.8,163.8 465,160C467.2,156.2 467.5,145 465,140C462.5,135 454,131.2 450,130C446,128.8 442.9,131.7 441,133Z" fill="#003c30"/>
<path d="M153.5,108C162.3,113.6 153.2,110.1 152.9,113.7C152.6,117.3 153.4,125.5 151.9,129.4C150.4,133.3 147,135.3 144,137.3C141,139.3 137,140 134,141.3C131,142.6 128.2,143.2 126.2,145.2C124.2,147.1 122.3,150.4 122.3,153C122.3,155.6 124.2,158.3 126.2,161C128.2,163.7 131,166.9 134,168.9C137,170.9 141,171.5 144,172.8C147,174.1 149.9,175.4 151.9,176.8C153.9,178.2 154.7,178.9 155.8,181C157,183.1 157.6,186.8 158.8,189.6C160,192.4 162.8,195.7 163,197.9C163.2,200.1 161,201.1 159.8,203C158.6,204.9 157.8,206.9 155.8,209.3C153.8,211.7 151,215.1 148,217.2C145,219.3 141.3,220.7 138,222C134.7,223.3 131.8,224.3 128.2,225C124.6,225.7 120.4,225.8 116.4,226C112.5,226.2 107.8,225.8 104.5,226C101.2,226.2 99.3,226.5 96.6,227C93.8,227.5 94.1,223.5 88,229C81.9,234.5 76.3,261.5 60,260C43.7,258.5 1.7,241.7 -10,220C-21.7,198.3 -28.3,153.3 -10,130C8.3,106.7 72.8,83.7 100,80C127.2,76.3 144.7,102.4 153.5,108Z" fill="#c68f3f"/>
<path d="M114,108.5C115.1,108.8 116.8,110.4 117.5,112C118.2,113.6 118.5,116.2 118.3,118C118.1,119.8 117.2,121.9 116.5,123C115.8,124.1 114.9,125.1 114,124.8C113.1,124.5 111.7,122.6 111,121C110.3,119.4 109.6,116.8 109.6,115C109.6,113.2 110.3,111.1 111,110C111.7,108.9 112.9,108.2 114,108.5Z" fill="#e7cf94"/>
<path d="M95,256C99.3,253.5 101.8,255.5 105.9,255C110,254.5 115.4,254.6 119.7,253C124,251.4 128.3,247.6 131.6,245.2C134.9,242.8 136.1,240.1 139.4,238.3C142.7,236.5 147.4,234.7 151.3,234.4C155.2,234.1 159.7,235.1 163,236.4C166.3,237.7 169,240.2 171,242.3C173,244.4 174.5,246.6 175,249.2C175.5,251.8 174.3,254.9 174,258C173.7,261.1 172.5,264.9 173,268C173.5,271.1 175,274.4 177,276.8C179,279.2 182.2,281.4 184.8,282.7C187.4,284 189.7,285 192.7,284.7C195.7,284.4 199.3,282 202.6,280.7C205.9,279.4 209.1,278.1 212.4,276.8C215.7,275.5 218.7,274 222.3,272.8C225.9,271.6 230.4,270.5 234,269.9C237.6,269.2 241,268.7 244,268.9C247,269.1 249.3,269.9 251.9,270.9C254.5,271.9 256.9,273.2 259.8,274.8C262.8,276.4 266.7,278.7 269.6,280.7C272.6,282.7 275.3,284.6 277.5,286.6C279.7,288.6 280.9,290.7 283,292.5C285.1,294.3 287.2,296.4 290,297.5C292.8,298.6 296.4,299.1 299.7,299C303,298.9 306.3,297.9 309.6,297C312.9,296.1 316.7,294.2 319.4,293.5C322.1,292.8 323.7,293.2 326,292.5C328.3,291.8 331.1,290.5 333,289C334.9,287.5 336.5,284.9 337.2,283.3C337.9,281.7 336.9,281.1 337.2,279.3C337.5,277.5 337.6,273.9 339.2,272.4C340.8,270.9 344.4,270.4 347,270.4C349.6,270.4 353.4,270.2 355,272.4C356.6,274.5 356.6,280.2 356.5,283.3C356.4,286.4 354.4,288.9 354.5,291C354.6,293.1 355.1,293.8 357.2,295.9C359.3,298 363.7,301.7 367,303.8C370.3,305.9 374,307.2 377,308.7C380,310.2 383.3,310.6 384.8,312.7C386.3,314.8 386.1,318.2 386,321C385.9,323.8 385.3,327.3 384,329.5C382.7,331.7 380.5,332.4 378.4,334.2C376.3,336 372.9,337.6 371.3,340.5C369.7,343.4 369.4,349.2 369,351.6C368.6,354 368.2,352.7 369,354.8C369.8,356.9 371.6,361.6 373.7,364.2C375.8,366.8 378.7,369.7 381.6,370.6C384.5,371.5 388.1,370.6 391,369.8C393.9,369 397.1,367.8 399,365.8C400.9,363.8 401.4,359.1 402.1,357.9C402.8,356.7 402.8,356.8 403.2,358.7C403.6,360.6 403.8,366 404.5,369C405.2,372 406.5,374.9 407.7,376.9C408.9,378.9 409.6,380 411.6,380.8C413.6,381.6 416.9,381.6 419.5,381.6C422.1,381.6 425.3,381.6 427.4,380.8C429.5,380 430.9,379 432.1,376.9C433.3,374.8 433.5,370.8 434.8,368.4C436.1,366 437.9,364.3 440,362.5C442.1,360.7 444.6,359.2 447.2,357.8C449.8,356.4 453.3,355.6 455.5,354.2C457.7,352.8 459,351.3 460.2,349.5C461.4,347.7 461.7,345.7 462.6,343.6C463.5,341.5 464.3,338.8 465.5,337C466.7,335.2 468.1,334.4 470,332.6C471.9,330.8 473.9,327.4 476.6,326.4C479.4,325.4 482.9,326.2 486.5,326.4C490.1,326.5 494.4,327.3 498.3,327.3C502.2,327.3 506.7,326.4 510,326.4C513.3,326.4 514.7,327.2 518,327.3C521.3,327.4 524.7,326.6 530,327C535.3,327.4 546.7,297.8 550,330C553.3,362.2 628.3,488.3 550,520C471.7,551.7 158.3,561.7 80,520C1.7,478.3 77.5,314 80,270C82.5,226 90.7,258.5 95,256Z" fill="#c68f3f"/>
<path d="M324.2,293C325.2,291.4 327.9,291.1 330,290.5C332.1,289.9 334.8,289.6 337,289.6C339.2,289.6 341.1,289.9 343,290.5C344.9,291.1 347.2,291.6 348.5,293C349.8,294.4 350.4,296.5 350.5,299C350.6,301.5 349.7,305.2 348.8,308C347.9,310.8 346.9,313.9 345,316C343.1,318.1 339.8,320.4 337.2,320.7C334.6,320.9 331.3,319.3 329.3,317.5C327.3,315.7 326.3,312.9 325.4,310C324.5,307.1 324.2,302.8 324,300C323.8,297.2 323.2,294.6 324.2,293Z" fill="#e7cf94"/>
<path d="M314.8,396.5C315.1,394.7 319.2,392.1 321.7,391.6C324.2,391.1 327,392.4 329.6,393.5C332.2,394.6 334.6,397.5 337.5,398.5C340.4,399.5 344.7,398.4 347.3,399.4C349.9,400.4 352.3,402.8 353.3,404.4C354.3,406 354.3,407.8 353.3,409.3C352.3,410.8 349.6,413.1 347.3,413.3C345,413.5 341.4,411.8 339.4,410.3C337.4,408.8 337.5,405.7 335.5,404.4C333.5,403.1 330.2,402.7 327.6,402.4C325,402.1 321.8,403.4 319.7,402.4C317.6,401.4 314.5,398.3 314.8,396.5Z" fill="#e7cf94"/>
<path d="M414.4,468C414.9,465.9 416,464.5 418.3,463.2C420.6,461.9 424.9,460.8 428.2,460.3C431.5,459.8 434.7,459.8 438,460.3C441.3,460.8 445,461.9 448,463.2C451,464.5 453.2,466.5 455.8,468C458.4,469.5 461,470.7 463.7,472C466.4,473.3 471.3,473.8 472,476C472.7,478.2 471.4,483.7 468,485C464.6,486.3 455.9,484.8 451.9,484C447.9,483.2 447,480.8 444,480C441,479.2 437.6,479.2 434,479C430.4,478.8 425.4,479.5 422.3,479C419.2,478.5 416.7,477.8 415.4,476C414.1,474.2 413.9,470.1 414.4,468Z" fill="#e7cf94"/>
<path d="M393.8,301.7C394.1,298.9 395.8,293.2 397.8,290.8C399.8,288.4 402.8,287.3 405.6,287C408.4,286.7 412.5,287.2 414.5,289C416.5,290.8 417.2,294.7 417.5,297.8C417.8,300.9 416.2,305 416.5,307.6C416.8,310.2 417.9,311.5 419.4,313.5C420.9,315.5 424.5,317 425.4,319.4C426.3,321.8 425.4,325.1 425,328C424.6,330.9 424.6,335.1 422.7,336.6C420.8,338.1 416.1,337.6 413.5,337.2C410.9,336.8 408.5,336.5 407,334.5C405.5,332.5 405.6,328.6 404.7,325.4C403.8,322.2 403.2,318.5 401.7,315.5C400.2,312.5 397.1,309.9 395.8,307.6C394.5,305.3 393.5,304.5 393.8,301.7Z" fill="#c68f3f"/>
<path d="M393.4,341.3 400.5,335.8 407.7,339 402.1,349.2Z" fill="#c68f3f"/>
<path d="M369.7,272.4C370,269.9 371.5,269.2 373.7,268.5C375.9,267.8 380.3,267.2 382.6,267.9C384.9,268.5 387.5,270.5 387.5,272.4C387.5,274.3 384.7,276.7 382.6,279.3C380.5,281.9 376.5,287.5 374.7,288.2C372.9,288.9 372.5,285.9 371.7,283.3C370.9,280.7 369.4,274.9 369.7,272.4Z" fill="#f6eed9"/>
<path d="M12,192C14,187.9 14.9,191.7 16.8,190.6C18.8,189.5 21.6,186.9 23.7,185.6C25.8,184.3 28,183.7 29.6,182.7C31.2,181.7 32.5,181.5 33.5,179.7C34.5,177.9 35,174.6 35.5,171.8C36,169 35.9,166.5 36.5,163C37.1,159.5 37.3,153.3 39.4,151C41.5,148.7 46,148.3 49.3,149C52.6,149.7 56.2,152.3 59.2,155C62.2,157.7 64.4,162 67,165C69.6,168 72,170.5 75,172.8C78,175.1 81.2,176.7 84.8,178.8C88.4,180.9 93.3,183.3 96.6,185.6C99.9,187.9 101.7,191.8 104.5,192.5C107.3,193.2 110.8,190.9 113.4,189.6C116,188.3 117.5,185.8 120.3,184.7C123.1,183.5 127.2,182.2 130.2,182.7C133.1,183.2 136.2,185.3 138,187.6C139.8,189.9 141,193.2 141,196.5C141,199.8 139.8,204.4 138,207.3C136.2,210.2 133.1,212.4 130.2,214.2C127.2,216 123.6,217.7 120.3,218.2C117,218.7 113.5,217.9 110.5,217.2C107.5,216.5 105.2,214.2 102.6,214.2C100,214.2 97,216.4 94.7,217.2C92.4,218 90.9,218.1 88.8,219.2C86.7,220.3 87.6,218.9 82,224C76.4,229.1 67.8,251.5 55,250C42.2,248.5 12.2,224.7 5,215C-2.2,205.3 10,196.1 12,192Z" fill="#92560e"/>
<path d="M140.4,277.9C142.3,276.2 146.8,275.2 149.3,275.9C151.8,276.5 153.9,279.8 155.2,281.8C156.5,283.8 157.7,286.1 157.2,287.8C156.7,289.5 155.2,292.3 152,292C148.8,291.7 139.9,288.4 138,286C136.1,283.6 138.5,279.6 140.4,277.9Z" fill="#92560e"/>
<path d="M163,317C164.5,314.1 166.7,315.8 169,314.4C171.3,313 174,310.1 177,308.5C180,306.9 183.2,305.5 186.8,304.5C190.4,303.5 194.7,303.6 198.6,302.5C202.5,301.4 207.2,299.4 210.5,297.6C213.8,295.8 215.7,294 218.3,291.7C220.9,289.4 223.2,285.8 226.2,283.8C229.1,281.8 232.7,280.9 236,279.9C239.3,278.9 243,277.8 246,277.9C249,278 251.2,279.1 253.8,280.8C256.4,282.5 259.4,285.7 261.7,287.8C264,289.9 265.4,291.7 267.7,293.7C270,295.7 272.6,297.5 275.5,299.6C278.4,301.7 282.1,304 285.4,306.5C288.7,309 292.9,312.5 295.3,314.4C297.7,316.2 297.9,316.1 300,317.6C302.1,319.1 305.3,321.2 307.9,323.5C310.5,325.8 313.2,328.8 315.8,331.4C318.4,334 321.4,337.2 323.7,339.3C326,341.4 327.5,342.2 329.6,344.2C331.7,346.1 334.5,348.5 336.5,351C338.5,353.5 339.9,356.4 341.4,359C342.9,361.6 344.5,364.6 345.4,366.9C346.3,369.1 348,371.4 347,372.5C346,373.6 342.3,373.8 339.4,373.8C336.5,373.9 332.8,373.4 329.6,372.8C326.4,372.2 323.3,368.8 320,370C316.7,371.2 313.3,375 310,380C306.7,385 304.2,394.2 300,400C295.8,405.8 297.5,412.5 285,415C272.5,417.5 237.2,421.7 225,415C212.8,408.3 214.2,387.5 212,375C209.8,362.5 220.7,347.2 212,340C203.3,332.8 168.2,335.8 160,332C151.8,328.2 161.5,319.9 163,317Z" fill="#92560e"/>
<path d="M253.3,349.4C253.3,347.4 253.9,344 255.2,342.5C256.5,341 258.7,340.1 261,340.6C263.3,341.1 266.3,343.7 269,345.5C271.7,347.3 274,350.1 277,351.4C280,352.7 283.2,353.2 286.8,353.4C290.4,353.6 295.3,351.9 298.6,352.4C301.9,352.9 304.4,355.1 306.5,356.4C308.6,357.7 309.1,359.4 311.4,360.3C313.6,361.2 319.9,359.1 320,362C320.1,364.9 314.8,372.8 312,378C309.2,383.2 306.2,390.7 303,393C299.8,395.3 294.4,394.3 292.7,392C291,389.7 293.7,382.2 292.7,379C291.7,375.8 289.4,374.6 286.8,373C284.2,371.4 279.5,370.8 277,369.2C274.5,367.6 274,365.4 272,363.3C270,361.2 267.8,357.9 265,356.4C262.2,354.9 257.1,355.6 255.2,354.4C253.2,353.2 253.3,351.4 253.3,349.4Z" fill="#c68f3f"/>
<path d="M350,377.5C351.2,377 356.3,377.6 359.5,378C362.7,378.4 365.3,378.9 369,380C372.7,381.1 377.7,383 381.6,384.8C385.6,386.6 389.2,388.7 392.7,391C396.2,393.3 399.8,395.6 402.6,398.5C405.4,401.4 409.5,405.8 409.5,408.3C409.5,410.8 405.1,411.8 402.6,413.3C400.1,414.8 397.3,416.1 394.7,417.2C392.1,418.3 389.1,420 386.8,420.2C384.5,420.4 382.9,419.7 380.9,418.2C378.9,416.7 377,414.1 375,411.3C373,408.5 371,404.7 369,401.4C367,398.1 365,394.4 363,391.6C361,388.8 359,386.5 357.2,384.7C355.4,382.9 353.2,382.2 352,381C350.8,379.8 348.8,378 350,377.5Z" fill="#92560e"/>
<path d="M412,405C413,400.9 417.5,390.8 420,387.3C422.5,383.8 424.6,385.2 427,383.8C429.4,382.4 432,380.8 434.2,379C436.4,377.2 437.8,374.8 440,373C442.2,371.2 444.6,369.7 447.2,368.4C449.8,367.1 452.5,366.6 455.5,365.4C458.5,364.2 461.6,362.7 465,361.3C468.4,359.9 473.8,355.9 476,357C478.2,358.1 482.3,362.2 478,368C473.7,373.8 458.8,384.7 450,392C441.2,399.3 431,408.7 425,412C419,415.3 416.2,413.2 414,412C411.8,410.8 411,409.1 412,405Z" fill="#b27a2b"/>
<path d="M412.4,408.3C413,405.3 415.9,403.9 418.3,401.4C420.7,398.9 424.1,395.6 427,393.3C429.9,391 432.8,389.7 435.4,387.3C438,384.9 440.3,381.6 442.5,379C444.7,376.4 446.2,373.8 448.4,372C450.6,370.2 453.1,369.5 455.5,368.4C457.9,367.3 460.2,366.4 462.6,365.4C465,364.4 466.8,363.4 469.7,362.5C472.6,361.6 478.3,349.6 480,360C481.7,370.4 485,413.7 480,425C475,436.3 456,426.5 450,428C444,429.5 446.3,432.5 444,434C441.7,435.5 439,436.7 436,436.9C433,437.1 429.1,436.3 426.2,435C423.2,433.7 420.3,431.6 418.3,429C416.3,426.4 415.4,422.6 414.4,419.2C413.4,415.8 411.8,411.3 412.4,408.3Z" fill="#92560e"/>
<path d="M324.7,419.2C327.3,418.7 329.3,416.6 331.6,417.2C333.9,417.8 337,420.7 338.5,423C340,425.3 340.6,428 340.4,431C340.1,434 341.1,440 337,441C332.9,442 319.5,440.5 316,437C312.5,433.5 314.6,423 316,420C317.4,417 322.1,419.7 324.7,419.2Z" fill="#92560e"/>
<path d="M484.5,349.5C484.8,346.5 485.9,346.9 487.5,346C489.1,345.1 491.9,344.2 494.4,344C496.9,343.8 499.4,344.7 502.3,345C505.2,345.3 511.1,342.8 512,346C513,349.2 512.3,361 508,364C503.7,367 489.9,366.4 486,364C482.1,361.6 484.2,352.5 484.5,349.5Z" fill="#92560e"/>
<path d="M407.5,487.9C408.9,486.1 410.6,485.4 412.4,486C414.2,486.6 418,489.1 418.3,491.8C418.6,494.5 416.4,501.1 414,502C411.6,502.9 405.1,499.4 404,497C402.9,494.6 406.1,489.7 407.5,487.9Z" fill="#92560e"/>
<path d="M36.5,217.2C38.9,215.8 39.3,214.2 42.4,213.3C45.5,212.4 51.3,212.1 55.2,211.7C59.1,211.3 63.8,210.3 66,210.9C68.2,211.5 68.5,213.7 68.5,215.2C68.5,216.7 66.8,217.5 66,220C65.2,222.5 65.5,226 64,230C62.5,234 61.3,242.3 57,244C52.7,245.7 42.8,243.7 38,240C33.2,236.3 28.2,225.8 28,222C27.8,218.2 34.1,218.6 36.5,217.2Z" fill="#543005"/>
<path d="M218.3,318.3C218.6,316.3 221.3,313.8 223.3,312.4C225.3,311 227.9,310.2 230.2,310C232.5,309.8 235.7,310.7 237,311.4C238.3,312.1 238.5,313.2 238,314.4C237.5,315.5 236,317 234,318.3C232,319.6 228.3,321.3 226.2,322.3C224.1,323.3 222.6,324.9 221.3,324.2C220,323.5 218,320.3 218.3,318.3Z" fill="#543005"/>
<path d="M50,227.5C51.7,225.6 56.8,225.5 59,225.5C61.2,225.5 62.9,226.5 63,227.5C63.1,228.5 60.3,229.2 59.5,231.5C58.7,233.8 59.8,240.1 58,241C56.2,241.9 50.3,239.2 49,237C47.7,234.8 48.3,229.4 50,227.5Z" fill="#92560e"/>
</g>
<use href="#ov"/>
</g>
<use href="#logo"/>
<use href="#logo" x="640"/>
<text x="79.3" y="30.6" class="ti">Quantités des précipitations</text>
<text x="78.1" y="51.7" class="st">cumul novembre 2024</text>
<text x="719.3" y="30.6" class="ti">Rapport à la normale des quantités des précipitations</text>
<text x="718.1" y="51.7" class="st">cumul novembre 2024 par rapport à la normale mensuelle 1991-2020</text>
<rect x="563" y="452.1" width="26" height="39.9" fill="#ffffd9"/>
<rect x="563" y="412.6" width="26" height="39.9" fill="#eff9b5"/>
<rect x="563" y="373" width="26" height="39.9" fill="#cfecb3"/>
<rect x="563" y="333.4" width="26" height="39.9" fill="#97d6b9"/>
<rect x="563" y="293.9" width="26" height="39.9" fill="#5dc0c0"/>
<rect x="563" y="254.3" width="26" height="39.9" fill="#31a6c2"/>
<rect x="563" y="214.7" width="26" height="39.9" fill="#1f80b8"/>
<rect x="563" y="175.1" width="26" height="39.9" fill="#2355a4"/>
<rect x="563" y="135.6" width="26" height="39.9" fill="#22318d"/>
<rect x="563" y="96" width="26" height="39.9" fill="#081d58"/>
<text x="601.3" y="496.5" class="lb">40</text>
<text x="601.3" y="457" class="lb">50</text>
<text x="601.3" y="417.6" class="lb">60</text>
<text x="601.3" y="378.1" class="lb">70</text>
<text x="601.3" y="338.6" class="lb">80</text>
<text x="601.3" y="299.1" class="lb">90</text>
<text x="601.3" y="259.6" class="lb">100</text>
<text x="601.3" y="220.2" class="lb">110</text>
<text x="601.3" y="180.7" class="lb">120</text>
<text x="601.3" y="141.2" class="lb">130</text>
<text x="601.3" y="101.8" class="lb">140</text>
<text x="632.3" y="73.8" class="un" text-anchor="end">mm</text>
<rect x="1203" y="452.1" width="26" height="39.9" fill="#543005"/>
<rect x="1203" y="412.6" width="26" height="39.9" fill="#92560e"/>
<rect x="1203" y="373" width="26" height="39.9" fill="#c68f3f"/>
<rect x="1203" y="333.4" width="26" height="39.9" fill="#e7cf94"/>
<rect x="1203" y="293.9" width="26" height="39.9" fill="#f6eed9"/>
<rect x="1203" y="254.3" width="26" height="39.9" fill="#dbefec"/>
<rect x="1203" y="214.7" width="26" height="39.9" fill="#98d7cd"/>
<rect x="1203" y="175.1" width="26" height="39.9" fill="#46a39a"/>
<rect x="1203" y="135.6" width="26" height="39.9" fill="#076b63"/>
<rect x="1203" y="96" width="26" height="39.9" fill="#003c30"/>
<text x="1241.3" y="496.5" class="lb">50</text>
<text x="1241.3" y="457" class="lb">60</text>
<text x="1241.3" y="417.6" class="lb">70</text>
<text x="1241.3" y="378.1" class="lb">80</text>
<text x="1241.3" y="338.6" class="lb">90</text>
<text x="1241.3" y="299.1" class="lb">100</text>
<text x="1241.3" y="259.6" class="lb">110</text>
<text x="1241.3" y="220.2" class="lb">120</text>
<text x="1241.3" y="180.7" class="lb">130</text>
<text x="1241.3" y="141.2" class="lb">140</text>
<text x="1241.3" y="101.8" class="lb">150</text>
<text x="1272.3" y="73.8" class="un" text-anchor="end">%</text>
</svg>
</body></html>
